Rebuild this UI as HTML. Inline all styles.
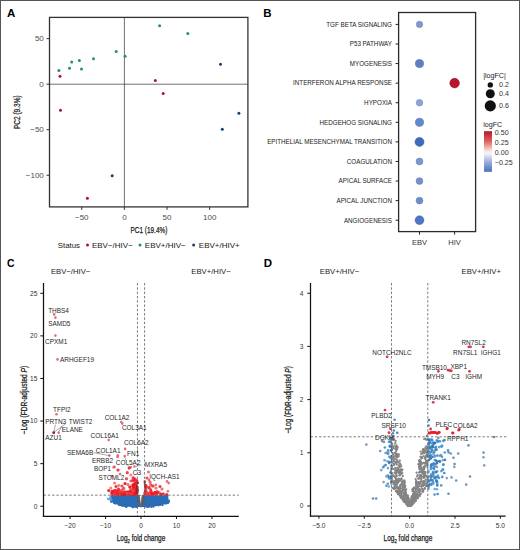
<!DOCTYPE html>
<html><head><meta charset="utf-8"><style>
html,body{margin:0;padding:0;background:#fff;}
svg{display:block;font-family:"Liberation Sans", sans-serif;}
</style></head><body>
<svg width="520" height="550" viewBox="0 0 520 550">
<rect width="520" height="550" fill="#fff"/>
<text x="6.90" y="17.11" font-size="11.5" fill="#000" font-weight="bold" >A</text>
<line x1="124.40" y1="17.40" x2="124.40" y2="206.90" stroke="#333" stroke-width="0.7" />
<line x1="49.50" y1="84.20" x2="247.90" y2="84.20" stroke="#333" stroke-width="0.7" />
<rect x="49.5" y="17.4" width="198.4" height="189.5" fill="none" stroke="#333" stroke-width="1.3"/>
<line x1="81.77" y1="206.90" x2="81.77" y2="209.90" stroke="#333" stroke-width="1" />
<text x="81.77" y="219.55" font-size="8.0" fill="#4d4d4d" text-anchor="middle" >−50</text>
<line x1="124.40" y1="206.90" x2="124.40" y2="209.90" stroke="#333" stroke-width="1" />
<text x="124.40" y="219.55" font-size="8.0" fill="#4d4d4d" text-anchor="middle" >0</text>
<line x1="167.03" y1="206.90" x2="167.03" y2="209.90" stroke="#333" stroke-width="1" />
<text x="167.03" y="219.55" font-size="8.0" fill="#4d4d4d" text-anchor="middle" >50</text>
<line x1="209.67" y1="206.90" x2="209.67" y2="209.90" stroke="#333" stroke-width="1" />
<text x="209.67" y="219.55" font-size="8.0" fill="#4d4d4d" text-anchor="middle" >100</text>
<line x1="46.50" y1="38.67" x2="49.50" y2="38.67" stroke="#333" stroke-width="1" />
<text x="43.80" y="41.42" font-size="8.0" fill="#4d4d4d" text-anchor="end" >50</text>
<line x1="46.50" y1="84.20" x2="49.50" y2="84.20" stroke="#333" stroke-width="1" />
<text x="43.80" y="86.95" font-size="8.0" fill="#4d4d4d" text-anchor="end" >0</text>
<line x1="46.50" y1="129.74" x2="49.50" y2="129.74" stroke="#333" stroke-width="1" />
<text x="43.80" y="132.49" font-size="8.0" fill="#4d4d4d" text-anchor="end" >−50</text>
<line x1="46.50" y1="175.27" x2="49.50" y2="175.27" stroke="#333" stroke-width="1" />
<text x="43.80" y="178.02" font-size="8.0" fill="#4d4d4d" text-anchor="end" >−100</text>
<text x="148.95" y="232.51" font-size="8.9" fill="#1a1a1a" text-anchor="middle" textLength="36.7" lengthAdjust="spacingAndGlyphs" stroke="#1a1a1a" stroke-width="0.25">PC1 (19.4%)</text>
<g transform="translate(20.3,112.2) rotate(-90)">
<text x="0.00" y="0.00" font-size="8.9" fill="#1a1a1a" text-anchor="middle" textLength="33.8" lengthAdjust="spacingAndGlyphs" stroke="#1a1a1a" stroke-width="0.25">PC2 (9.3%)</text>
</g>
<circle cx="58.90" cy="70.60" r="1.50" fill="#23955a" />
<circle cx="60.00" cy="76.20" r="1.50" fill="#b0103a" />
<circle cx="69.50" cy="68.20" r="1.50" fill="#23955a" />
<circle cx="71.70" cy="62.10" r="1.50" fill="#23955a" />
<circle cx="79.40" cy="60.50" r="1.50" fill="#23955a" />
<circle cx="81.50" cy="69.00" r="1.50" fill="#23955a" />
<circle cx="93.50" cy="58.70" r="1.50" fill="#23955a" />
<circle cx="116.20" cy="51.60" r="1.50" fill="#23955a" />
<circle cx="125.10" cy="56.20" r="1.50" fill="#23955a" />
<circle cx="159.60" cy="25.80" r="1.50" fill="#23955a" />
<circle cx="187.80" cy="33.50" r="1.50" fill="#23955a" />
<circle cx="155.30" cy="80.50" r="1.50" fill="#b0103a" />
<circle cx="163.20" cy="93.50" r="1.50" fill="#b0103a" />
<circle cx="220.50" cy="64.20" r="1.50" fill="#16416e" />
<circle cx="238.90" cy="113.20" r="1.50" fill="#16416e" />
<circle cx="222.30" cy="129.20" r="1.50" fill="#16416e" />
<circle cx="60.50" cy="110.30" r="1.50" fill="#b0103a" />
<circle cx="112.20" cy="175.80" r="1.50" fill="#16416e" />
<circle cx="87.40" cy="198.20" r="1.50" fill="#b0103a" />
<text x="57.70" y="247.62" font-size="7.9" fill="#1a1a1a" >Status</text>
<circle cx="87.50" cy="245.00" r="1.50" fill="#b0103a" />
<text x="91.90" y="247.65" font-size="8.0" fill="#1a1a1a" >EBV−/HIV−</text>
<circle cx="140.00" cy="245.00" r="1.50" fill="#23955a" />
<text x="144.80" y="247.65" font-size="8.0" fill="#1a1a1a" >EBV+/HIV−</text>
<circle cx="193.60" cy="245.00" r="1.50" fill="#16416e" />
<text x="198.80" y="247.65" font-size="8.0" fill="#1a1a1a" >EBV+/HIV+</text>
<text x="263.20" y="17.41" font-size="11.5" fill="#000" font-weight="bold" >B</text>
<rect x="398.6" y="12.5" width="77.0" height="219.1" fill="none" stroke="#2a2a2a" stroke-width="1.3"/>
<line x1="395.60" y1="24.40" x2="398.60" y2="24.40" stroke="#222" stroke-width="1" />
<text x="392.00" y="26.70" font-size="6.7" fill="#1a1a1a" text-anchor="end" textLength="65.73" lengthAdjust="spacingAndGlyphs" >TGF BETA SIGNALING</text>
<line x1="395.60" y1="43.98" x2="398.60" y2="43.98" stroke="#222" stroke-width="1" />
<text x="392.00" y="46.28" font-size="6.7" fill="#1a1a1a" text-anchor="end" textLength="42.27" lengthAdjust="spacingAndGlyphs" >P53 PATHWAY</text>
<line x1="395.60" y1="63.56" x2="398.60" y2="63.56" stroke="#222" stroke-width="1" />
<text x="392.00" y="65.86" font-size="6.7" fill="#1a1a1a" text-anchor="end" textLength="42.16" lengthAdjust="spacingAndGlyphs" >MYOGENESIS</text>
<line x1="395.60" y1="83.14" x2="398.60" y2="83.14" stroke="#222" stroke-width="1" />
<text x="392.00" y="85.44" font-size="6.7" fill="#1a1a1a" text-anchor="end" textLength="98.95" lengthAdjust="spacingAndGlyphs" >INTERFERON ALPHA RESPONSE</text>
<line x1="395.60" y1="102.72" x2="398.60" y2="102.72" stroke="#222" stroke-width="1" />
<text x="392.00" y="105.02" font-size="6.7" fill="#1a1a1a" text-anchor="end" textLength="27.88" lengthAdjust="spacingAndGlyphs" >HYPOXIA</text>
<line x1="395.60" y1="122.30" x2="398.60" y2="122.30" stroke="#222" stroke-width="1" />
<text x="392.00" y="124.60" font-size="6.7" fill="#1a1a1a" text-anchor="end" textLength="72.47" lengthAdjust="spacingAndGlyphs" >HEDGEHOG SIGNALING</text>
<line x1="395.60" y1="141.88" x2="398.60" y2="141.88" stroke="#222" stroke-width="1" />
<text x="392.00" y="144.18" font-size="6.7" fill="#1a1a1a" text-anchor="end" textLength="124.85" lengthAdjust="spacingAndGlyphs" >EPITHELIAL MESENCHYMAL TRANSITION</text>
<line x1="395.60" y1="161.46" x2="398.60" y2="161.46" stroke="#222" stroke-width="1" />
<text x="392.00" y="163.76" font-size="6.7" fill="#1a1a1a" text-anchor="end" textLength="45.17" lengthAdjust="spacingAndGlyphs" >COAGULATION</text>
<line x1="395.60" y1="181.04" x2="398.60" y2="181.04" stroke="#222" stroke-width="1" />
<text x="392.00" y="183.34" font-size="6.7" fill="#1a1a1a" text-anchor="end" textLength="53.43" lengthAdjust="spacingAndGlyphs" >APICAL SURFACE</text>
<line x1="395.60" y1="200.62" x2="398.60" y2="200.62" stroke="#222" stroke-width="1" />
<text x="392.00" y="202.92" font-size="6.7" fill="#1a1a1a" text-anchor="end" textLength="55.51" lengthAdjust="spacingAndGlyphs" >APICAL JUNCTION</text>
<line x1="395.60" y1="220.20" x2="398.60" y2="220.20" stroke="#222" stroke-width="1" />
<text x="392.00" y="222.50" font-size="6.7" fill="#1a1a1a" text-anchor="end" textLength="48.08" lengthAdjust="spacingAndGlyphs" >ANGIOGENESIS</text>
<line x1="419.50" y1="231.60" x2="419.50" y2="234.60" stroke="#222" stroke-width="1" />
<text x="419.50" y="244.58" font-size="7.5" fill="#333" text-anchor="middle" >EBV</text>
<line x1="454.60" y1="231.60" x2="454.60" y2="234.60" stroke="#222" stroke-width="1" />
<text x="454.60" y="244.58" font-size="7.5" fill="#333" text-anchor="middle" >HIV</text>
<circle cx="419.50" cy="24.40" r="3.20" fill="#8099cf" stroke="#6377a1" stroke-width="0.5"/>
<circle cx="419.50" cy="63.56" r="4.10" fill="#5e80c3" stroke="#496398" stroke-width="0.5"/>
<circle cx="419.50" cy="102.72" r="3.30" fill="#8aa5d9" stroke="#6b80a9" stroke-width="0.5"/>
<circle cx="419.50" cy="122.30" r="4.10" fill="#6088cc" stroke="#4a6a9f" stroke-width="0.5"/>
<circle cx="419.50" cy="141.88" r="4.50" fill="#3d6cbf" stroke="#2f5494" stroke-width="0.5"/>
<circle cx="419.50" cy="161.46" r="3.40" fill="#7c96cf" stroke="#6075a1" stroke-width="0.5"/>
<circle cx="419.50" cy="181.04" r="3.40" fill="#7592cd" stroke="#5b719f" stroke-width="0.5"/>
<circle cx="419.50" cy="200.62" r="3.40" fill="#6e8ecb" stroke="#556e9e" stroke-width="0.5"/>
<circle cx="419.50" cy="220.20" r="4.40" fill="#4d77c5" stroke="#3c5c99" stroke-width="0.5"/>
<circle cx="454.60" cy="83.14" r="4.80" fill="#b8142c" stroke="#8f0f22" stroke-width="0.5"/>
<text x="483.20" y="77.64" font-size="7.1" fill="#1a1a1a" >|logFC|</text>
<circle cx="490.30" cy="84.90" r="2.70" fill="#111" />
<text x="499.00" y="87.34" font-size="7.1" fill="#333" >0.2</text>
<circle cx="490.30" cy="93.80" r="4.50" fill="#111" />
<text x="499.00" y="96.24" font-size="7.1" fill="#333" >0.4</text>
<circle cx="490.30" cy="105.90" r="5.60" fill="#111" />
<text x="499.00" y="108.34" font-size="7.1" fill="#333" >0.6</text>
<text x="483.20" y="127.14" font-size="7.1" fill="#1a1a1a" >logFC</text>
<defs><linearGradient id="cb" x1="0" y1="0" x2="0" y2="1">
<stop offset="0" stop-color="#b2182b"/><stop offset="0.25" stop-color="#e0625f"/><stop offset="0.5" stop-color="#fbe9e4"/>
<stop offset="0.55" stop-color="#f3f3fb"/><stop offset="0.78" stop-color="#92a8d8"/><stop offset="1" stop-color="#4a70b8"/></linearGradient></defs>
<rect x="484" y="131.2" width="8" height="40.6" fill="url(#cb)"/>
<text x="494.80" y="134.94" font-size="7.1" fill="#333" >0.50</text>
<text x="494.80" y="145.24" font-size="7.1" fill="#333" >0.25</text>
<text x="494.80" y="155.24" font-size="7.1" fill="#333" >0.00</text>
<text x="494.80" y="165.44" font-size="7.1" fill="#333" >−0.25</text>
<text x="6.90" y="266.76" font-size="11.8" fill="#000" font-weight="bold" textLength="7.5" lengthAdjust="spacingAndGlyphs" >C</text>
<text x="70.60" y="274.10" font-size="7.7" fill="#222" text-anchor="middle" >EBV−/HIV−</text>
<text x="211.00" y="274.10" font-size="7.7" fill="#222" text-anchor="middle" >EBV+/HIV−</text>
<path d="M110.5,495.2 L168.3,495.2 L168.5,502.29 L168.0,502.54 L167.5,502.79 L167.0,503.02 L166.5,503.24 L166.0,503.46 L165.5,503.66 L165.0,503.86 L164.5,504.04 L164.0,504.22 L163.5,504.39 L163.0,504.56 L162.5,504.71 L162.0,504.86 L161.5,505.00 L161.0,505.13 L160.5,505.26 L160.0,505.38 L159.5,505.50 L159.0,505.60 L158.5,505.71 L158.0,505.81 L157.5,505.90 L157.0,505.99 L156.5,506.07 L156.0,506.15 L155.5,506.22 L155.0,506.29 L154.5,506.36 L154.0,506.42 L153.5,506.48 L153.0,506.53 L152.5,506.59 L152.0,506.63 L151.5,506.68 L151.0,506.72 L150.5,506.76 L150.0,506.80 L149.5,506.83 L149.0,506.86 L148.5,506.89 L148.0,506.92 L147.5,506.94 L147.0,506.97 L146.5,506.99 L146.0,507.01 L145.5,507.02 L145.0,507.04 L144.5,507.05 L144.0,507.06 L143.5,507.07 L143.0,507.08 L142.5,507.09 L142.0,507.09 L141.5,507.10 L141.0,507.10 L140.5,507.10 L140.0,507.10 L139.5,507.10 L139.0,507.09 L138.5,507.09 L138.0,507.08 L137.5,507.07 L137.0,507.06 L136.5,507.05 L136.0,507.04 L135.5,507.02 L135.0,507.01 L134.5,506.99 L134.0,506.97 L133.5,506.94 L133.0,506.92 L132.5,506.89 L132.0,506.86 L131.5,506.83 L131.0,506.80 L130.5,506.76 L130.0,506.72 L129.5,506.68 L129.0,506.63 L128.5,506.59 L128.0,506.53 L127.5,506.48 L127.0,506.42 L126.5,506.36 L126.0,506.29 L125.5,506.22 L125.0,506.15 L124.5,506.07 L124.0,505.99 L123.5,505.90 L123.0,505.81 L122.5,505.71 L122.0,505.60 L121.5,505.50 L121.0,505.38 L120.5,505.26 L120.0,505.13 L119.5,505.00 L119.0,504.86 L118.5,504.71 L118.0,504.56 L117.5,504.39 L117.0,504.22 L116.5,504.04 L116.0,503.86 L115.5,503.66 L115.0,503.46 L114.5,503.24 L114.0,503.02 L113.5,502.79 L113.0,502.54 L112.5,502.29 L112.0,502.02 L111.5,501.75 L111.0,501.46 L110.5,501.16 Z" fill="#2a6db6"/>
<g fill="#2a6db6">
<circle cx="136.7" cy="506.6" r="1.1"/>
<circle cx="164.5" cy="503.4" r="1.1"/>
<circle cx="120.9" cy="504.8" r="1.1"/>
<circle cx="147.2" cy="507.0" r="1.1"/>
<circle cx="115.6" cy="502.8" r="1.1"/>
<circle cx="115.3" cy="503.6" r="1.1"/>
<circle cx="150.9" cy="505.3" r="1.1"/>
<circle cx="167.9" cy="502.9" r="1.1"/>
<circle cx="148.6" cy="506.6" r="1.1"/>
<circle cx="119.3" cy="503.5" r="1.1"/>
<circle cx="113.5" cy="501.7" r="1.1"/>
<circle cx="124.3" cy="504.6" r="1.1"/>
<circle cx="136.0" cy="507.1" r="1.1"/>
<circle cx="147.8" cy="506.4" r="1.1"/>
<circle cx="149.1" cy="506.2" r="1.1"/>
<circle cx="126.4" cy="506.7" r="1.1"/>
<circle cx="168.7" cy="502.3" r="1.1"/>
<circle cx="151.8" cy="505.8" r="1.1"/>
<circle cx="123.6" cy="505.0" r="1.1"/>
<circle cx="114.1" cy="503.0" r="1.1"/>
<circle cx="133.6" cy="507.1" r="1.1"/>
<circle cx="132.8" cy="507.2" r="1.1"/>
<circle cx="160.0" cy="503.9" r="1.1"/>
<circle cx="122.4" cy="505.9" r="1.1"/>
<circle cx="167.8" cy="501.9" r="1.1"/>
<circle cx="114.3" cy="502.9" r="1.1"/>
<circle cx="155.9" cy="505.2" r="1.1"/>
<circle cx="115.1" cy="502.6" r="1.1"/>
<circle cx="166.9" cy="503.0" r="1.1"/>
<circle cx="117.0" cy="503.2" r="1.1"/>
<circle cx="116.0" cy="502.5" r="1.1"/>
<circle cx="157.0" cy="504.8" r="1.1"/>
<circle cx="136.4" cy="505.9" r="1.1"/>
<circle cx="153.2" cy="505.3" r="1.1"/>
<circle cx="148.0" cy="505.6" r="1.1"/>
<circle cx="134.8" cy="505.9" r="1.1"/>
<circle cx="125.9" cy="506.6" r="1.1"/>
<circle cx="157.4" cy="505.0" r="1.1"/>
<circle cx="162.2" cy="503.7" r="1.1"/>
<circle cx="133.3" cy="507.1" r="1.1"/>
<circle cx="147.9" cy="505.6" r="1.1"/>
<circle cx="168.4" cy="501.3" r="1.1"/>
<circle cx="125.2" cy="506.2" r="1.1"/>
<circle cx="129.4" cy="505.7" r="1.1"/>
<circle cx="114.3" cy="501.8" r="1.1"/>
<circle cx="124.3" cy="505.7" r="1.1"/>
<circle cx="131.9" cy="506.2" r="1.1"/>
<circle cx="166.6" cy="502.6" r="1.1"/>
<circle cx="161.1" cy="503.9" r="1.1"/>
<circle cx="119.1" cy="505.1" r="1.1"/>
<circle cx="158.3" cy="504.7" r="1.1"/>
<circle cx="121.2" cy="505.3" r="1.1"/>
<circle cx="165.5" cy="502.5" r="1.1"/>
<circle cx="166.1" cy="503.6" r="1.1"/>
<circle cx="145.6" cy="506.3" r="1.1"/>
<circle cx="116.1" cy="502.5" r="1.1"/>
<circle cx="166.8" cy="502.1" r="1.1"/>
<circle cx="151.6" cy="505.7" r="1.1"/>
<circle cx="158.6" cy="505.3" r="1.1"/>
<circle cx="127.3" cy="505.3" r="1.1"/>
<circle cx="152.5" cy="505.2" r="1.1"/>
<circle cx="123.5" cy="505.5" r="1.1"/>
<circle cx="160.3" cy="505.0" r="1.1"/>
<circle cx="126.5" cy="506.6" r="1.1"/>
<circle cx="122.0" cy="504.1" r="1.1"/>
<circle cx="125.9" cy="505.6" r="1.1"/>
<circle cx="113.6" cy="501.7" r="1.1"/>
<circle cx="131.8" cy="506.4" r="1.1"/>
<circle cx="117.8" cy="503.7" r="1.1"/>
<circle cx="162.6" cy="505.1" r="1.1"/>
<circle cx="148.8" cy="506.7" r="1.1"/>
<circle cx="118.3" cy="503.2" r="1.1"/>
<circle cx="111.1" cy="501.7" r="1.1"/>
<circle cx="151.4" cy="507.0" r="1.1"/>
<circle cx="111.3" cy="501.3" r="1.1"/>
<circle cx="153.1" cy="505.6" r="1.1"/>
<circle cx="169.0" cy="500.7" r="1.1"/>
<circle cx="153.5" cy="506.7" r="1.1"/>
</g>
<g fill="#5d9ad6" opacity="0.85">
<circle cx="110.4" cy="499.1" r="1.1"/>
<circle cx="110.7" cy="500.1" r="1.1"/>
<circle cx="108.9" cy="499.0" r="1.1"/>
<circle cx="111.1" cy="499.9" r="1.1"/>
<circle cx="109.2" cy="499.5" r="1.1"/>
<circle cx="111.0" cy="498.5" r="1.1"/>
<circle cx="110.0" cy="497.6" r="1.1"/>
<circle cx="109.8" cy="498.7" r="1.1"/>
<circle cx="107.8" cy="498.8" r="1.1"/>
<circle cx="111.5" cy="499.9" r="1.1"/>
<circle cx="110.4" cy="497.6" r="1.1"/>
<circle cx="110.4" cy="498.5" r="1.1"/>
</g>
<path d="M137.3,495.2 L143.8,495.2 L143.6,503 L141.2,507.6 L138.6,504 Z" fill="#58595c"/>
<path d="M139.5,495.2 L141.9,495.2 L140.8,505.2 Z" fill="#fff"/>
<g fill="#6a6a6a" opacity="0.7">
<circle cx="141.9" cy="500.8" r="0.7"/>
<circle cx="138.5" cy="499.1" r="0.7"/>
<circle cx="139.3" cy="498.1" r="0.7"/>
<circle cx="141.4" cy="504.5" r="0.7"/>
<circle cx="141.6" cy="498.4" r="0.7"/>
<circle cx="142.8" cy="497.1" r="0.7"/>
<circle cx="139.9" cy="504.2" r="0.7"/>
<circle cx="141.4" cy="501.2" r="0.7"/>
<circle cx="141.0" cy="503.2" r="0.7"/>
<circle cx="141.5" cy="504.7" r="0.7"/>
<circle cx="140.3" cy="505.6" r="0.7"/>
<circle cx="141.9" cy="497.9" r="0.7"/>
<circle cx="141.6" cy="505.1" r="0.7"/>
<circle cx="140.2" cy="506.4" r="0.7"/>
<circle cx="138.7" cy="496.8" r="0.7"/>
<circle cx="140.1" cy="505.1" r="0.7"/>
<circle cx="141.8" cy="503.2" r="0.7"/>
<circle cx="142.7" cy="499.2" r="0.7"/>
<circle cx="140.2" cy="505.5" r="0.7"/>
<circle cx="141.3" cy="502.1" r="0.7"/>
<circle cx="139.8" cy="502.9" r="0.7"/>
<circle cx="139.1" cy="495.8" r="0.7"/>
<circle cx="140.7" cy="504.5" r="0.7"/>
<circle cx="139.7" cy="500.6" r="0.7"/>
<circle cx="141.1" cy="506.5" r="0.7"/>
<circle cx="139.9" cy="505.0" r="0.7"/>
<circle cx="140.2" cy="504.2" r="0.7"/>
<circle cx="138.5" cy="497.6" r="0.7"/>
<circle cx="142.4" cy="501.7" r="0.7"/>
<circle cx="139.8" cy="500.0" r="0.7"/>
<circle cx="139.4" cy="496.5" r="0.7"/>
<circle cx="142.5" cy="497.0" r="0.7"/>
<circle cx="139.4" cy="499.8" r="0.7"/>
<circle cx="142.1" cy="500.8" r="0.7"/>
<circle cx="139.3" cy="496.6" r="0.7"/>
<circle cx="139.6" cy="498.0" r="0.7"/>
<circle cx="140.7" cy="506.7" r="0.7"/>
<circle cx="142.7" cy="498.5" r="0.7"/>
<circle cx="138.6" cy="499.5" r="0.7"/>
<circle cx="142.0" cy="499.4" r="0.7"/>
</g>
<g>
<circle cx="135.0" cy="494.2" r="1.6" fill="#ec1c24" opacity="0.9"/>
<circle cx="115.9" cy="493.9" r="1.6" fill="#e8141c" opacity="0.9"/>
<circle cx="124.7" cy="492.4" r="1.6" fill="#ee3a48" opacity="0.9"/>
<circle cx="166.7" cy="494.5" r="1.6" fill="#e8141c" opacity="0.9"/>
<circle cx="118.9" cy="492.4" r="1.6" fill="#ee3a48" opacity="0.85"/>
<circle cx="133.0" cy="493.2" r="1.6" fill="#f0262c" opacity="0.9"/>
<circle cx="145.8" cy="491.9" r="1.6" fill="#f2474d" opacity="0.85"/>
<circle cx="115.1" cy="493.3" r="1.6" fill="#f0262c" opacity="0.6"/>
<circle cx="122.0" cy="494.4" r="1.6" fill="#ec1c24" opacity="0.6"/>
<circle cx="125.2" cy="494.5" r="1.6" fill="#de1a22" opacity="0.6"/>
<circle cx="154.5" cy="493.1" r="1.6" fill="#ec1c24" opacity="0.6"/>
<circle cx="135.0" cy="491.9" r="1.6" fill="#de1a22" opacity="0.95"/>
<circle cx="124.1" cy="493.9" r="1.6" fill="#de1a22" opacity="0.6"/>
<circle cx="116.4" cy="493.0" r="1.6" fill="#f0262c" opacity="0.85"/>
<circle cx="136.4" cy="494.5" r="1.6" fill="#e8141c" opacity="0.85"/>
<circle cx="118.7" cy="492.4" r="1.6" fill="#e8141c" opacity="0.6"/>
<circle cx="124.2" cy="493.1" r="1.6" fill="#f2474d" opacity="0.6"/>
<circle cx="116.5" cy="493.3" r="1.6" fill="#de1a22" opacity="0.75"/>
<circle cx="122.0" cy="493.3" r="1.6" fill="#e8141c" opacity="0.6"/>
<circle cx="127.6" cy="492.9" r="1.6" fill="#f2474d" opacity="0.85"/>
<circle cx="148.8" cy="493.4" r="1.6" fill="#e8141c" opacity="0.85"/>
<circle cx="150.6" cy="494.3" r="1.6" fill="#f2474d" opacity="0.95"/>
<circle cx="150.8" cy="494.3" r="1.6" fill="#e8141c" opacity="0.75"/>
<circle cx="117.6" cy="492.4" r="1.6" fill="#f0262c" opacity="0.9"/>
<circle cx="132.7" cy="493.7" r="1.6" fill="#ee3a48" opacity="0.85"/>
<circle cx="127.5" cy="491.9" r="1.6" fill="#ec1c24" opacity="0.85"/>
<circle cx="120.6" cy="491.7" r="1.6" fill="#f0262c" opacity="0.75"/>
<circle cx="127.7" cy="493.9" r="1.6" fill="#ee3a48" opacity="0.85"/>
<circle cx="146.8" cy="492.7" r="1.6" fill="#f2474d" opacity="0.6"/>
<circle cx="145.0" cy="493.7" r="1.6" fill="#e8141c" opacity="0.85"/>
<circle cx="115.9" cy="494.3" r="1.6" fill="#f0262c" opacity="0.75"/>
<circle cx="114.9" cy="492.7" r="1.6" fill="#ec1c24" opacity="0.75"/>
<circle cx="123.4" cy="493.4" r="1.6" fill="#de1a22" opacity="0.85"/>
<circle cx="111.8" cy="492.5" r="1.6" fill="#e8141c" opacity="0.85"/>
<circle cx="120.7" cy="493.8" r="1.6" fill="#e8141c" opacity="0.6"/>
<circle cx="124.6" cy="494.6" r="1.6" fill="#ec1c24" opacity="0.9"/>
<circle cx="116.4" cy="493.1" r="1.6" fill="#f0262c" opacity="0.95"/>
<circle cx="114.5" cy="492.3" r="1.6" fill="#e8141c" opacity="0.9"/>
<circle cx="119.9" cy="493.3" r="1.6" fill="#f0262c" opacity="0.9"/>
<circle cx="121.8" cy="492.4" r="1.6" fill="#ec1c24" opacity="0.95"/>
<circle cx="114.1" cy="490.9" r="1.6" fill="#ee3a48" opacity="0.6"/>
<circle cx="118.5" cy="489.1" r="1.6" fill="#f0262c" opacity="0.95"/>
<circle cx="121.9" cy="494.3" r="1.6" fill="#ec1c24" opacity="0.9"/>
<circle cx="124.2" cy="494.2" r="1.6" fill="#ec1c24" opacity="0.9"/>
<circle cx="157.1" cy="492.9" r="1.6" fill="#f0262c" opacity="0.9"/>
<circle cx="112.8" cy="494.2" r="1.6" fill="#de1a22" opacity="0.75"/>
<circle cx="117.9" cy="490.6" r="1.6" fill="#f2474d" opacity="0.6"/>
<circle cx="136.2" cy="493.2" r="1.6" fill="#ec1c24" opacity="0.9"/>
<circle cx="146.6" cy="494.5" r="1.6" fill="#f2474d" opacity="0.75"/>
<circle cx="135.4" cy="493.8" r="1.6" fill="#e8141c" opacity="0.9"/>
<circle cx="126.7" cy="493.6" r="1.6" fill="#de1a22" opacity="0.9"/>
<circle cx="121.7" cy="494.0" r="1.6" fill="#f2474d" opacity="0.95"/>
<circle cx="118.4" cy="490.1" r="1.6" fill="#ee3a48" opacity="0.95"/>
<circle cx="131.2" cy="493.1" r="1.6" fill="#ee3a48" opacity="0.85"/>
<circle cx="129.0" cy="494.5" r="1.6" fill="#f0262c" opacity="0.9"/>
<circle cx="136.7" cy="489.7" r="1.6" fill="#ec1c24" opacity="0.85"/>
<circle cx="123.7" cy="488.4" r="1.6" fill="#e8141c" opacity="0.75"/>
<circle cx="135.4" cy="492.4" r="1.6" fill="#de1a22" opacity="0.85"/>
<circle cx="149.8" cy="494.4" r="1.6" fill="#f2474d" opacity="0.9"/>
<circle cx="116.7" cy="494.5" r="1.6" fill="#f2474d" opacity="0.85"/>
<circle cx="122.8" cy="492.7" r="1.6" fill="#de1a22" opacity="0.6"/>
<circle cx="126.3" cy="493.7" r="1.6" fill="#ee3a48" opacity="0.6"/>
<circle cx="156.0" cy="494.4" r="1.6" fill="#f0262c" opacity="0.85"/>
<circle cx="114.4" cy="490.8" r="1.6" fill="#f2474d" opacity="0.6"/>
<circle cx="146.7" cy="492.9" r="1.6" fill="#ee3a48" opacity="0.6"/>
<circle cx="118.6" cy="494.1" r="1.6" fill="#e8141c" opacity="0.6"/>
<circle cx="157.0" cy="491.4" r="1.6" fill="#ee3a48" opacity="0.75"/>
<circle cx="111.7" cy="494.1" r="1.6" fill="#ec1c24" opacity="0.6"/>
<circle cx="117.2" cy="494.0" r="1.6" fill="#ec1c24" opacity="0.85"/>
<circle cx="127.6" cy="493.8" r="1.6" fill="#de1a22" opacity="0.95"/>
<circle cx="120.3" cy="492.3" r="1.6" fill="#ec1c24" opacity="0.75"/>
<circle cx="132.5" cy="491.5" r="1.6" fill="#e8141c" opacity="0.9"/>
<circle cx="118.1" cy="491.8" r="1.6" fill="#f0262c" opacity="0.85"/>
<circle cx="136.7" cy="493.9" r="1.6" fill="#f2474d" opacity="0.85"/>
<circle cx="120.9" cy="494.4" r="1.6" fill="#f0262c" opacity="0.75"/>
<circle cx="122.5" cy="493.2" r="1.6" fill="#ee3a48" opacity="0.9"/>
<circle cx="131.3" cy="494.5" r="1.6" fill="#e8141c" opacity="0.6"/>
<circle cx="119.2" cy="492.4" r="1.6" fill="#ee3a48" opacity="0.95"/>
<circle cx="115.1" cy="493.8" r="1.6" fill="#ee3a48" opacity="0.95"/>
<circle cx="114.5" cy="492.5" r="1.6" fill="#f2474d" opacity="0.6"/>
<circle cx="163.3" cy="493.9" r="1.6" fill="#f0262c" opacity="0.9"/>
<circle cx="121.7" cy="490.0" r="1.6" fill="#f2474d" opacity="0.85"/>
<circle cx="132.6" cy="494.6" r="1.6" fill="#ee3a48" opacity="0.9"/>
<circle cx="131.8" cy="492.3" r="1.6" fill="#f0262c" opacity="0.9"/>
<circle cx="132.8" cy="493.2" r="1.6" fill="#e8141c" opacity="0.75"/>
<circle cx="134.0" cy="494.0" r="1.6" fill="#ec1c24" opacity="0.85"/>
<circle cx="125.4" cy="493.2" r="1.6" fill="#ec1c24" opacity="0.9"/>
<circle cx="125.4" cy="492.0" r="1.6" fill="#ec1c24" opacity="0.95"/>
<circle cx="130.3" cy="490.7" r="1.6" fill="#ec1c24" opacity="0.75"/>
<circle cx="115.2" cy="492.3" r="1.6" fill="#ee3a48" opacity="0.9"/>
<circle cx="117.1" cy="492.1" r="1.6" fill="#f2474d" opacity="0.95"/>
<circle cx="121.6" cy="493.9" r="1.6" fill="#f0262c" opacity="0.85"/>
<circle cx="125.2" cy="492.4" r="1.6" fill="#ee3a48" opacity="0.6"/>
<circle cx="152.1" cy="493.9" r="1.6" fill="#ee3a48" opacity="0.95"/>
<circle cx="150.7" cy="491.7" r="1.6" fill="#f2474d" opacity="0.75"/>
<circle cx="129.6" cy="491.8" r="1.6" fill="#de1a22" opacity="0.9"/>
<circle cx="160.8" cy="494.2" r="1.6" fill="#e8141c" opacity="0.9"/>
<circle cx="119.7" cy="493.8" r="1.6" fill="#f2474d" opacity="0.95"/>
<circle cx="134.1" cy="493.5" r="1.6" fill="#ee3a48" opacity="0.75"/>
<circle cx="115.5" cy="490.3" r="1.6" fill="#ec1c24" opacity="0.9"/>
<circle cx="123.8" cy="491.9" r="1.6" fill="#f0262c" opacity="0.75"/>
<circle cx="120.7" cy="493.1" r="1.6" fill="#f2474d" opacity="0.9"/>
<circle cx="117.2" cy="494.3" r="1.6" fill="#f0262c" opacity="0.9"/>
<circle cx="130.8" cy="494.0" r="1.6" fill="#f2474d" opacity="0.6"/>
<circle cx="118.1" cy="490.9" r="1.6" fill="#f0262c" opacity="0.6"/>
<circle cx="113.9" cy="491.2" r="1.6" fill="#de1a22" opacity="0.75"/>
<circle cx="114.9" cy="491.9" r="1.6" fill="#f2474d" opacity="0.6"/>
<circle cx="131.6" cy="494.5" r="1.6" fill="#e8141c" opacity="0.75"/>
<circle cx="152.9" cy="494.2" r="1.6" fill="#de1a22" opacity="0.6"/>
<circle cx="150.3" cy="493.9" r="1.6" fill="#f0262c" opacity="0.85"/>
<circle cx="133.7" cy="493.4" r="1.6" fill="#ee3a48" opacity="0.6"/>
<circle cx="125.1" cy="494.3" r="1.6" fill="#e8141c" opacity="0.75"/>
<circle cx="134.9" cy="494.3" r="1.6" fill="#e8141c" opacity="0.75"/>
<circle cx="127.2" cy="493.3" r="1.6" fill="#de1a22" opacity="0.9"/>
<circle cx="130.6" cy="493.3" r="1.6" fill="#f2474d" opacity="0.95"/>
<circle cx="116.3" cy="494.2" r="1.6" fill="#ee3a48" opacity="0.75"/>
<circle cx="122.7" cy="494.5" r="1.6" fill="#de1a22" opacity="0.6"/>
<circle cx="135.6" cy="489.0" r="1.6" fill="#f0262c" opacity="0.95"/>
<circle cx="125.7" cy="492.7" r="1.6" fill="#ec1c24" opacity="0.95"/>
<circle cx="115.1" cy="492.7" r="1.6" fill="#ee3a48" opacity="0.9"/>
<circle cx="131.5" cy="494.4" r="1.6" fill="#de1a22" opacity="0.75"/>
<circle cx="147.2" cy="494.1" r="1.6" fill="#ec1c24" opacity="0.9"/>
<circle cx="133.3" cy="491.4" r="1.6" fill="#ee3a48" opacity="0.85"/>
<circle cx="154.7" cy="494.4" r="1.6" fill="#ee3a48" opacity="0.9"/>
<circle cx="144.8" cy="492.8" r="1.6" fill="#f2474d" opacity="0.75"/>
<circle cx="116.6" cy="492.4" r="1.6" fill="#f0262c" opacity="0.95"/>
<circle cx="157.3" cy="492.9" r="1.6" fill="#f0262c" opacity="0.9"/>
<circle cx="148.9" cy="494.5" r="1.6" fill="#ee3a48" opacity="0.85"/>
<circle cx="121.8" cy="491.5" r="1.6" fill="#f2474d" opacity="0.75"/>
<circle cx="112.3" cy="491.4" r="1.6" fill="#ec1c24" opacity="0.95"/>
<circle cx="147.5" cy="493.9" r="1.6" fill="#f2474d" opacity="0.85"/>
<circle cx="131.1" cy="491.7" r="1.6" fill="#de1a22" opacity="0.9"/>
<circle cx="122.0" cy="494.6" r="1.6" fill="#de1a22" opacity="0.6"/>
<circle cx="136.5" cy="491.9" r="1.6" fill="#ee3a48" opacity="0.6"/>
<circle cx="118.1" cy="494.2" r="1.6" fill="#f0262c" opacity="0.9"/>
<circle cx="121.1" cy="493.4" r="1.6" fill="#f0262c" opacity="0.75"/>
<circle cx="115.5" cy="492.1" r="1.6" fill="#f0262c" opacity="0.6"/>
<circle cx="127.1" cy="493.4" r="1.6" fill="#f2474d" opacity="0.85"/>
<circle cx="159.0" cy="492.3" r="1.6" fill="#e8141c" opacity="0.6"/>
<circle cx="146.2" cy="493.3" r="1.6" fill="#e8141c" opacity="0.75"/>
<circle cx="134.4" cy="487.1" r="1.6" fill="#de1a22" opacity="0.95"/>
<circle cx="133.2" cy="477.8" r="1.6" fill="#f0262c" opacity="0.95"/>
<circle cx="135.2" cy="493.1" r="1.6" fill="#ee3a48" opacity="0.85"/>
<circle cx="136.7" cy="483.6" r="1.6" fill="#f2474d" opacity="0.6"/>
<circle cx="129.8" cy="487.1" r="1.6" fill="#e8141c" opacity="0.95"/>
<circle cx="135.6" cy="491.6" r="1.6" fill="#ec1c24" opacity="0.95"/>
<circle cx="135.7" cy="487.0" r="1.6" fill="#f2474d" opacity="0.95"/>
<circle cx="135.9" cy="489.5" r="1.6" fill="#f2474d" opacity="0.75"/>
<circle cx="133.6" cy="491.7" r="1.6" fill="#ee3a48" opacity="0.85"/>
<circle cx="135.2" cy="482.8" r="1.6" fill="#ee3a48" opacity="0.9"/>
<circle cx="133.3" cy="486.4" r="1.6" fill="#ec1c24" opacity="0.85"/>
<circle cx="135.8" cy="485.5" r="1.6" fill="#e8141c" opacity="0.6"/>
<circle cx="133.6" cy="487.2" r="1.6" fill="#e8141c" opacity="0.95"/>
<circle cx="134.3" cy="493.2" r="1.6" fill="#f2474d" opacity="0.95"/>
<circle cx="131.2" cy="489.4" r="1.6" fill="#ee3a48" opacity="0.85"/>
<circle cx="133.6" cy="488.6" r="1.6" fill="#ec1c24" opacity="0.9"/>
<circle cx="132.8" cy="479.9" r="1.6" fill="#ee3a48" opacity="0.6"/>
<circle cx="136.7" cy="480.7" r="1.6" fill="#de1a22" opacity="0.9"/>
<circle cx="133.4" cy="480.6" r="1.6" fill="#de1a22" opacity="0.9"/>
<circle cx="135.7" cy="491.3" r="1.6" fill="#f2474d" opacity="0.95"/>
<circle cx="133.3" cy="492.7" r="1.6" fill="#ec1c24" opacity="0.95"/>
<circle cx="134.6" cy="490.3" r="1.6" fill="#f2474d" opacity="0.9"/>
<circle cx="136.5" cy="483.3" r="1.6" fill="#f0262c" opacity="0.6"/>
<circle cx="135.1" cy="489.8" r="1.6" fill="#de1a22" opacity="0.85"/>
<circle cx="133.5" cy="493.9" r="1.6" fill="#ec1c24" opacity="0.9"/>
<circle cx="135.5" cy="484.8" r="1.6" fill="#e8141c" opacity="0.6"/>
<circle cx="135.8" cy="486.5" r="1.6" fill="#e8141c" opacity="0.75"/>
<circle cx="131.3" cy="493.9" r="1.6" fill="#ee3a48" opacity="0.95"/>
<circle cx="134.6" cy="487.8" r="1.6" fill="#e8141c" opacity="0.85"/>
<circle cx="134.8" cy="487.2" r="1.6" fill="#ec1c24" opacity="0.75"/>
<circle cx="131.9" cy="485.8" r="1.6" fill="#ec1c24" opacity="0.6"/>
<circle cx="133.6" cy="490.0" r="1.6" fill="#f0262c" opacity="0.85"/>
<circle cx="136.9" cy="492.3" r="1.6" fill="#e8141c" opacity="0.75"/>
<circle cx="133.4" cy="490.8" r="1.6" fill="#f2474d" opacity="0.9"/>
<circle cx="133.6" cy="484.5" r="1.6" fill="#e8141c" opacity="0.75"/>
<circle cx="135.7" cy="485.7" r="1.6" fill="#f0262c" opacity="0.95"/>
<circle cx="136.1" cy="490.0" r="1.6" fill="#de1a22" opacity="0.85"/>
<circle cx="135.0" cy="478.9" r="1.6" fill="#ee3a48" opacity="0.75"/>
<circle cx="134.8" cy="479.6" r="1.6" fill="#f0262c" opacity="0.9"/>
<circle cx="132.1" cy="492.9" r="1.6" fill="#ee3a48" opacity="0.6"/>
<circle cx="135.5" cy="483.2" r="1.6" fill="#e8141c" opacity="0.75"/>
<circle cx="135.2" cy="488.5" r="1.6" fill="#f0262c" opacity="0.95"/>
<circle cx="133.2" cy="484.8" r="1.6" fill="#e8141c" opacity="0.95"/>
<circle cx="135.7" cy="492.9" r="1.6" fill="#e8141c" opacity="0.95"/>
<circle cx="149.1" cy="487.7" r="1.6" fill="#f0262c" opacity="0.85"/>
<circle cx="146.0" cy="487.0" r="1.6" fill="#f0262c" opacity="0.95"/>
<circle cx="148.8" cy="487.7" r="1.6" fill="#ec1c24" opacity="0.6"/>
<circle cx="154.8" cy="492.4" r="1.6" fill="#e8141c" opacity="0.85"/>
<circle cx="146.0" cy="485.5" r="1.6" fill="#ec1c24" opacity="0.9"/>
<circle cx="148.9" cy="493.3" r="1.6" fill="#f2474d" opacity="0.75"/>
<circle cx="146.2" cy="493.6" r="1.6" fill="#f2474d" opacity="0.6"/>
<circle cx="145.8" cy="489.5" r="1.6" fill="#f2474d" opacity="0.75"/>
<circle cx="146.0" cy="490.5" r="1.6" fill="#ee3a48" opacity="0.6"/>
<circle cx="151.3" cy="492.1" r="1.6" fill="#e8141c" opacity="0.75"/>
<circle cx="150.8" cy="484.7" r="1.6" fill="#f2474d" opacity="0.9"/>
<circle cx="152.6" cy="493.8" r="1.6" fill="#ec1c24" opacity="0.85"/>
<circle cx="150.8" cy="489.9" r="1.6" fill="#f0262c" opacity="0.95"/>
<g fill="#8a1a28" opacity="0.85">
<circle cx="137.7" cy="491.0" r="1.0"/>
<circle cx="137.4" cy="487.1" r="1.0"/>
<circle cx="138.0" cy="489.6" r="1.0"/>
<circle cx="137.4" cy="493.3" r="1.0"/>
<circle cx="136.9" cy="490.9" r="1.0"/>
<circle cx="136.9" cy="488.5" r="1.0"/>
<circle cx="137.0" cy="486.2" r="1.0"/>
<circle cx="137.8" cy="491.0" r="1.0"/>
<circle cx="137.9" cy="483.3" r="1.0"/>
<circle cx="137.4" cy="483.1" r="1.0"/>
<circle cx="137.5" cy="487.0" r="1.0"/>
<circle cx="136.7" cy="488.4" r="1.0"/>
<circle cx="137.7" cy="488.0" r="1.0"/>
<circle cx="138.0" cy="482.5" r="1.0"/>
<circle cx="144.6" cy="481.2" r="1.0"/>
<circle cx="144.9" cy="486.7" r="1.0"/>
<circle cx="144.8" cy="484.4" r="1.0"/>
<circle cx="145.2" cy="481.9" r="1.0"/>
<circle cx="145.3" cy="488.4" r="1.0"/>
<circle cx="144.9" cy="491.3" r="1.0"/>
<circle cx="144.6" cy="482.9" r="1.0"/>
<circle cx="144.7" cy="481.6" r="1.0"/>
</g>
<circle cx="114.6" cy="483.0" r="1.6" fill="#f0262c" opacity="0.6"/>
<circle cx="118.8" cy="485.4" r="1.6" fill="#ee3a48" opacity="0.6"/>
<circle cx="110.8" cy="488.0" r="1.6" fill="#f0262c" opacity="0.6"/>
<circle cx="126.5" cy="478.8" r="1.6" fill="#de1a22" opacity="0.75"/>
<circle cx="113.8" cy="467.2" r="1.6" fill="#ee3a48" opacity="0.6"/>
<circle cx="118.0" cy="470.0" r="1.6" fill="#e8141c" opacity="0.9"/>
<circle cx="127.3" cy="472.7" r="1.6" fill="#f0262c" opacity="0.85"/>
<circle cx="129.2" cy="468.0" r="1.6" fill="#e8141c" opacity="0.9"/>
<circle cx="130.8" cy="475.0" r="1.6" fill="#ee3a48" opacity="0.6"/>
<circle cx="122.0" cy="486.0" r="1.6" fill="#de1a22" opacity="0.75"/>
<circle cx="116.0" cy="486.5" r="1.6" fill="#f0262c" opacity="0.9"/>
<circle cx="125.0" cy="483.5" r="1.6" fill="#de1a22" opacity="0.95"/>
<circle cx="131.0" cy="481.0" r="1.6" fill="#ee3a48" opacity="0.85"/>
<circle cx="128.0" cy="484.5" r="1.6" fill="#ee3a48" opacity="0.75"/>
<circle cx="108.8" cy="490.5" r="1.6" fill="#e8141c" opacity="0.9"/>
<circle cx="150.0" cy="482.0" r="1.6" fill="#f2474d" opacity="0.85"/>
<circle cx="153.0" cy="486.0" r="1.6" fill="#e8141c" opacity="0.9"/>
<circle cx="156.0" cy="488.0" r="1.6" fill="#f2474d" opacity="0.75"/>
<circle cx="160.0" cy="486.5" r="1.6" fill="#ec1c24" opacity="0.85"/>
<circle cx="162.0" cy="489.0" r="1.6" fill="#de1a22" opacity="0.6"/>
<circle cx="147.0" cy="478.0" r="1.6" fill="#e8141c" opacity="0.75"/>
<circle cx="148.5" cy="472.0" r="1.6" fill="#de1a22" opacity="0.6"/>
</g>
<circle cx="54.20" cy="314.40" r="1.30" fill="#e0506a" opacity="0.85"/>
<circle cx="55.40" cy="317.60" r="1.30" fill="#e0506a" opacity="0.85"/>
<circle cx="55.40" cy="335.60" r="1.30" fill="#e0506a" opacity="0.85"/>
<circle cx="57.50" cy="359.40" r="1.30" fill="#e0506a" opacity="0.85"/>
<circle cx="56.50" cy="414.20" r="1.30" fill="#e0506a" opacity="0.85"/>
<circle cx="58.70" cy="432.70" r="1.30" fill="#e0506a" opacity="0.85"/>
<circle cx="121.30" cy="422.00" r="1.30" fill="#e0506a" opacity="0.85"/>
<circle cx="122.30" cy="423.60" r="1.30" fill="#e0506a" opacity="0.85"/>
<circle cx="108.70" cy="440.00" r="1.30" fill="#e0506a" opacity="0.85"/>
<circle cx="125.10" cy="448.90" r="1.30" fill="#e0506a" opacity="0.85"/>
<circle cx="109.40" cy="455.60" r="1.30" fill="#e0506a" opacity="0.85"/>
<circle cx="117.80" cy="455.40" r="1.30" fill="#e0506a" opacity="0.85"/>
<circle cx="117.50" cy="457.00" r="1.30" fill="#e0506a" opacity="0.85"/>
<circle cx="124.70" cy="456.10" r="1.30" fill="#e0506a" opacity="0.85"/>
<circle cx="114.40" cy="466.90" r="1.30" fill="#e0506a" opacity="0.85"/>
<circle cx="118.10" cy="470.00" r="1.30" fill="#e0506a" opacity="0.85"/>
<circle cx="130.70" cy="467.20" r="1.30" fill="#e0506a" opacity="0.85"/>
<circle cx="126.40" cy="478.70" r="1.30" fill="#e0506a" opacity="0.85"/>
<circle cx="134.50" cy="466.50" r="1.30" fill="#e0506a" opacity="0.85"/>
<circle cx="120.00" cy="474.00" r="1.30" fill="#e0506a" opacity="0.85"/>
<circle cx="112.00" cy="476.00" r="1.30" fill="#e0506a" opacity="0.85"/>
<circle cx="155.80" cy="484.80" r="1.30" fill="#e0506a" opacity="0.85"/>
<circle cx="167.00" cy="481.40" r="1.30" fill="#e0506a" opacity="0.85"/>
<circle cx="168.70" cy="483.10" r="1.30" fill="#e0506a" opacity="0.85"/>
<circle cx="167.90" cy="491.30" r="1.30" fill="#e0506a" opacity="0.85"/>
<circle cx="149.00" cy="480.00" r="1.30" fill="#e0506a" opacity="0.85"/>
<circle cx="152.00" cy="486.00" r="1.30" fill="#e0506a" opacity="0.85"/>
<circle cx="53.70" cy="432.70" r="1.40" fill="#9a0f2a" />
<line x1="137.45" y1="283.00" x2="137.45" y2="516.40" stroke="#5a5a5a" stroke-width="0.8" stroke-dasharray="2.4,1.9"/>
<line x1="144.55" y1="283.00" x2="144.55" y2="516.40" stroke="#5a5a5a" stroke-width="0.8" stroke-dasharray="2.4,1.9"/>
<line x1="43.50" y1="495.17" x2="238.80" y2="495.17" stroke="#5a5a5a" stroke-width="0.8" stroke-dasharray="2.4,1.9"/>
<line x1="43.50" y1="283.00" x2="43.50" y2="517.00" stroke="#111" stroke-width="1.25" />
<line x1="42.90" y1="516.40" x2="238.80" y2="516.40" stroke="#111" stroke-width="1.25" />
<line x1="40.30" y1="506.25" x2="43.50" y2="506.25" stroke="#111" stroke-width="1" />
<text x="37.40" y="508.52" font-size="6.6" fill="#333" text-anchor="end" >0</text>
<line x1="40.30" y1="463.66" x2="43.50" y2="463.66" stroke="#111" stroke-width="1" />
<text x="37.40" y="465.93" font-size="6.6" fill="#333" text-anchor="end" >5</text>
<line x1="40.30" y1="421.07" x2="43.50" y2="421.07" stroke="#111" stroke-width="1" />
<text x="37.40" y="423.34" font-size="6.6" fill="#333" text-anchor="end" >10</text>
<line x1="40.30" y1="378.48" x2="43.50" y2="378.48" stroke="#111" stroke-width="1" />
<text x="37.40" y="380.75" font-size="6.6" fill="#333" text-anchor="end" >15</text>
<line x1="40.30" y1="335.89" x2="43.50" y2="335.89" stroke="#111" stroke-width="1" />
<text x="37.40" y="338.16" font-size="6.6" fill="#333" text-anchor="end" >20</text>
<line x1="40.30" y1="293.30" x2="43.50" y2="293.30" stroke="#111" stroke-width="1" />
<text x="37.40" y="295.57" font-size="6.6" fill="#333" text-anchor="end" >25</text>
<line x1="70.08" y1="516.40" x2="70.08" y2="519.00" stroke="#111" stroke-width="1" />
<text x="70.08" y="528.17" font-size="6.6" fill="#333" text-anchor="middle" >−20</text>
<line x1="105.54" y1="516.40" x2="105.54" y2="519.00" stroke="#111" stroke-width="1" />
<text x="105.54" y="528.17" font-size="6.6" fill="#333" text-anchor="middle" >−10</text>
<line x1="141.00" y1="516.40" x2="141.00" y2="519.00" stroke="#111" stroke-width="1" />
<text x="141.00" y="528.17" font-size="6.6" fill="#333" text-anchor="middle" >0</text>
<line x1="176.46" y1="516.40" x2="176.46" y2="519.00" stroke="#111" stroke-width="1" />
<text x="176.46" y="528.17" font-size="6.6" fill="#333" text-anchor="middle" >10</text>
<line x1="211.92" y1="516.40" x2="211.92" y2="519.00" stroke="#111" stroke-width="1" />
<text x="211.92" y="528.17" font-size="6.6" fill="#333" text-anchor="middle" >20</text>
<text x="141" y="541.1" font-size="8.9" fill="#1a1a1a" stroke="#1a1a1a" stroke-width="0.25" text-anchor="middle" textLength="48.6" lengthAdjust="spacingAndGlyphs">Log<tspan font-size="5.8" dy="2">2</tspan><tspan dy="-2"> fold change</tspan></text>
<g transform="translate(26.8,400.1) rotate(-90)"><text x="0" y="0" font-size="8.9" fill="#1a1a1a" stroke="#1a1a1a" stroke-width="0.25" text-anchor="middle" textLength="68.7" lengthAdjust="spacingAndGlyphs">−Log (FDR-adjusted <tspan font-style="italic">P</tspan>)</text></g>
<text x="48.20" y="313.02" font-size="6.45" fill="#1f1f1f" >THBS4</text>
<text x="48.20" y="325.62" font-size="6.45" fill="#1f1f1f" >SAMD5</text>
<text x="45.10" y="344.12" font-size="6.45" fill="#1f1f1f" >CPXM1</text>
<text x="60.00" y="362.32" font-size="6.45" fill="#1f1f1f" >ARHGEF19</text>
<text x="53.10" y="412.12" font-size="6.45" fill="#1f1f1f" >TFPI2</text>
<text x="45.20" y="424.12" font-size="6.45" fill="#1f1f1f" >PRTN3</text>
<text x="68.80" y="424.12" font-size="6.45" fill="#1f1f1f" >TWIST2</text>
<text x="61.80" y="432.22" font-size="6.45" fill="#1f1f1f" >ELANE</text>
<text x="45.30" y="440.22" font-size="6.45" fill="#1f1f1f" >AZU1</text>
<text x="104.70" y="420.42" font-size="6.45" fill="#1f1f1f" >COL1A2</text>
<text x="121.90" y="430.42" font-size="6.45" fill="#1f1f1f" >COL3A1</text>
<text x="90.60" y="437.92" font-size="6.45" fill="#1f1f1f" >COL16A1</text>
<text x="123.90" y="445.22" font-size="6.45" fill="#1f1f1f" >COL6A2</text>
<text x="95.80" y="453.02" font-size="6.45" fill="#1f1f1f" >COL1A1</text>
<text x="127.10" y="456.42" font-size="6.45" fill="#1f1f1f" >FN1</text>
<text x="91.90" y="462.92" font-size="6.45" fill="#1f1f1f" >ERBB2</text>
<text x="115.80" y="465.22" font-size="6.45" fill="#1f1f1f" >COL5A2</text>
<text x="144.80" y="466.62" font-size="6.45" fill="#1f1f1f" >MXRA5</text>
<text x="93.90" y="471.22" font-size="6.45" fill="#1f1f1f" >BOP1</text>
<text x="132.80" y="474.92" font-size="6.45" fill="#1f1f1f" >C3</text>
<text x="98.60" y="479.62" font-size="6.45" fill="#1f1f1f" >STOML2</text>
<text x="149.20" y="479.22" font-size="6.45" fill="#1f1f1f" >IQCH-AS1</text>
<text x="93.20" y="455.12" font-size="6.45" fill="#1f1f1f" text-anchor="end" >SEMA6B</text>
<line x1="93.40" y1="452.60" x2="109.40" y2="455.60" stroke="#555" stroke-width="0.5" />
<line x1="55.40" y1="424.70" x2="53.70" y2="432.70" stroke="#555" stroke-width="0.5" />
<line x1="66.00" y1="423.40" x2="54.30" y2="432.00" stroke="#555" stroke-width="0.5" />
<line x1="62.00" y1="426.00" x2="58.70" y2="432.00" stroke="#555" stroke-width="0.5" />
<line x1="137.50" y1="453.50" x2="137.50" y2="449.00" stroke="#555" stroke-width="0.5" />
<line x1="127.00" y1="465.00" x2="130.70" y2="467.20" stroke="#555" stroke-width="0.5" />
<line x1="141.50" y1="465.00" x2="136.00" y2="466.50" stroke="#555" stroke-width="0.5" />
<line x1="126.50" y1="461.50" x2="124.70" y2="457.00" stroke="#555" stroke-width="0.5" />
<text x="263.80" y="267.26" font-size="11.5" fill="#000" font-weight="bold" >D</text>
<text x="339.50" y="274.10" font-size="7.7" fill="#222" text-anchor="middle" >EBV+/HIV−</text>
<text x="481.25" y="274.10" font-size="7.7" fill="#222" text-anchor="middle" >EBV+/HIV+</text>
<g fill="#626262" opacity="0.78">
<circle cx="426.3" cy="439.8" r="1.15"/>
<circle cx="413.1" cy="488.7" r="1.15"/>
<circle cx="411.6" cy="496.3" r="1.15"/>
<circle cx="423.3" cy="485.7" r="1.15"/>
<circle cx="423.1" cy="491.6" r="1.15"/>
<circle cx="403.4" cy="480.6" r="1.15"/>
<circle cx="423.6" cy="484.8" r="1.15"/>
<circle cx="428.3" cy="472.2" r="1.15"/>
<circle cx="409.8" cy="504.4" r="1.15"/>
<circle cx="399.0" cy="465.4" r="1.15"/>
<circle cx="417.4" cy="498.4" r="1.15"/>
<circle cx="403.3" cy="499.6" r="1.15"/>
<circle cx="418.7" cy="482.1" r="1.15"/>
<circle cx="403.5" cy="500.5" r="1.15"/>
<circle cx="395.5" cy="468.5" r="1.15"/>
<circle cx="408.8" cy="503.7" r="1.15"/>
<circle cx="416.0" cy="495.5" r="1.15"/>
<circle cx="391.1" cy="477.6" r="1.15"/>
<circle cx="394.2" cy="482.2" r="1.15"/>
<circle cx="411.1" cy="505.2" r="1.15"/>
<circle cx="426.2" cy="455.5" r="1.15"/>
<circle cx="420.3" cy="461.3" r="1.15"/>
<circle cx="424.4" cy="475.0" r="1.15"/>
<circle cx="401.1" cy="472.9" r="1.15"/>
<circle cx="404.4" cy="483.7" r="1.15"/>
<circle cx="427.5" cy="463.0" r="1.15"/>
<circle cx="409.3" cy="506.0" r="1.15"/>
<circle cx="414.7" cy="499.3" r="1.15"/>
<circle cx="419.7" cy="496.0" r="1.15"/>
<circle cx="416.1" cy="481.3" r="1.15"/>
<circle cx="424.7" cy="466.3" r="1.15"/>
<circle cx="391.1" cy="475.7" r="1.15"/>
<circle cx="390.9" cy="471.2" r="1.15"/>
<circle cx="393.9" cy="488.8" r="1.15"/>
<circle cx="422.8" cy="485.4" r="1.15"/>
<circle cx="414.6" cy="497.7" r="1.15"/>
<circle cx="398.1" cy="482.4" r="1.15"/>
<circle cx="396.8" cy="464.5" r="1.15"/>
<circle cx="411.1" cy="505.0" r="1.15"/>
<circle cx="420.8" cy="472.2" r="1.15"/>
<circle cx="392.9" cy="457.2" r="1.15"/>
<circle cx="392.1" cy="449.0" r="1.15"/>
<circle cx="427.5" cy="450.4" r="1.15"/>
<circle cx="391.5" cy="456.0" r="1.15"/>
<circle cx="412.9" cy="495.5" r="1.15"/>
<circle cx="407.9" cy="498.4" r="1.15"/>
<circle cx="402.5" cy="496.6" r="1.15"/>
<circle cx="419.4" cy="495.4" r="1.15"/>
<circle cx="423.6" cy="467.0" r="1.15"/>
<circle cx="398.5" cy="469.7" r="1.15"/>
<circle cx="407.4" cy="499.6" r="1.15"/>
<circle cx="424.2" cy="483.3" r="1.15"/>
<circle cx="390.9" cy="458.2" r="1.15"/>
<circle cx="412.8" cy="496.2" r="1.15"/>
<circle cx="420.1" cy="482.6" r="1.15"/>
<circle cx="408.7" cy="499.2" r="1.15"/>
<circle cx="408.2" cy="506.0" r="1.15"/>
<circle cx="406.2" cy="499.0" r="1.15"/>
<circle cx="418.5" cy="478.9" r="1.15"/>
<circle cx="405.3" cy="485.8" r="1.15"/>
<circle cx="405.7" cy="494.5" r="1.15"/>
<circle cx="393.7" cy="455.6" r="1.15"/>
<circle cx="391.8" cy="437.5" r="1.15"/>
<circle cx="392.4" cy="481.4" r="1.15"/>
<circle cx="419.9" cy="471.5" r="1.15"/>
<circle cx="407.7" cy="501.8" r="1.15"/>
<circle cx="417.4" cy="493.4" r="1.15"/>
<circle cx="418.8" cy="464.0" r="1.15"/>
<circle cx="395.8" cy="448.0" r="1.15"/>
<circle cx="397.2" cy="448.5" r="1.15"/>
<circle cx="399.1" cy="488.8" r="1.15"/>
<circle cx="397.0" cy="456.8" r="1.15"/>
<circle cx="400.1" cy="479.8" r="1.15"/>
<circle cx="401.5" cy="479.2" r="1.15"/>
<circle cx="414.2" cy="487.6" r="1.15"/>
<circle cx="408.0" cy="504.1" r="1.15"/>
<circle cx="402.9" cy="489.8" r="1.15"/>
<circle cx="425.4" cy="447.9" r="1.15"/>
<circle cx="420.8" cy="494.0" r="1.15"/>
<circle cx="420.2" cy="483.7" r="1.15"/>
<circle cx="411.3" cy="498.7" r="1.15"/>
<circle cx="401.4" cy="478.4" r="1.15"/>
<circle cx="394.5" cy="489.0" r="1.15"/>
<circle cx="392.1" cy="462.6" r="1.15"/>
<circle cx="401.2" cy="471.6" r="1.15"/>
<circle cx="418.9" cy="492.0" r="1.15"/>
<circle cx="409.9" cy="505.3" r="1.15"/>
<circle cx="408.2" cy="504.1" r="1.15"/>
<circle cx="400.8" cy="469.3" r="1.15"/>
<circle cx="415.7" cy="500.9" r="1.15"/>
<circle cx="397.7" cy="467.8" r="1.15"/>
<circle cx="427.5" cy="467.1" r="1.15"/>
<circle cx="400.0" cy="491.1" r="1.15"/>
<circle cx="419.5" cy="461.6" r="1.15"/>
<circle cx="419.8" cy="468.9" r="1.15"/>
<circle cx="401.0" cy="492.9" r="1.15"/>
<circle cx="394.7" cy="463.6" r="1.15"/>
<circle cx="426.1" cy="446.3" r="1.15"/>
<circle cx="396.0" cy="447.0" r="1.15"/>
<circle cx="418.2" cy="495.3" r="1.15"/>
<circle cx="420.0" cy="462.1" r="1.15"/>
<circle cx="395.4" cy="467.8" r="1.15"/>
<circle cx="427.9" cy="479.7" r="1.15"/>
<circle cx="402.9" cy="497.8" r="1.15"/>
<circle cx="392.4" cy="465.6" r="1.15"/>
<circle cx="406.4" cy="500.8" r="1.15"/>
<circle cx="398.0" cy="480.7" r="1.15"/>
<circle cx="400.0" cy="474.9" r="1.15"/>
<circle cx="406.7" cy="502.3" r="1.15"/>
<circle cx="419.0" cy="460.7" r="1.15"/>
<circle cx="426.8" cy="435.9" r="1.15"/>
<circle cx="397.2" cy="487.0" r="1.15"/>
<circle cx="407.1" cy="497.3" r="1.15"/>
<circle cx="392.3" cy="443.8" r="1.15"/>
<circle cx="408.6" cy="503.8" r="1.15"/>
<circle cx="413.2" cy="498.2" r="1.15"/>
<circle cx="419.7" cy="489.1" r="1.15"/>
<circle cx="425.5" cy="472.2" r="1.15"/>
<circle cx="409.2" cy="503.3" r="1.15"/>
<circle cx="416.3" cy="494.3" r="1.15"/>
<circle cx="422.2" cy="471.3" r="1.15"/>
<circle cx="417.7" cy="475.2" r="1.15"/>
<circle cx="410.7" cy="502.4" r="1.15"/>
<circle cx="423.8" cy="471.3" r="1.15"/>
<circle cx="415.6" cy="497.8" r="1.15"/>
<circle cx="408.4" cy="498.2" r="1.15"/>
<circle cx="404.5" cy="501.3" r="1.15"/>
<circle cx="426.0" cy="460.8" r="1.15"/>
<circle cx="395.5" cy="487.8" r="1.15"/>
<circle cx="399.7" cy="473.3" r="1.15"/>
<circle cx="394.2" cy="439.5" r="1.15"/>
<circle cx="420.3" cy="462.4" r="1.15"/>
<circle cx="420.4" cy="465.8" r="1.15"/>
<circle cx="400.3" cy="485.4" r="1.15"/>
<circle cx="426.1" cy="461.0" r="1.15"/>
<circle cx="412.9" cy="502.5" r="1.15"/>
<circle cx="394.4" cy="482.9" r="1.15"/>
<circle cx="404.8" cy="501.6" r="1.15"/>
<circle cx="408.0" cy="498.7" r="1.15"/>
<circle cx="391.9" cy="439.6" r="1.15"/>
<circle cx="417.7" cy="497.9" r="1.15"/>
<circle cx="391.5" cy="468.9" r="1.15"/>
<circle cx="425.7" cy="465.7" r="1.15"/>
<circle cx="422.8" cy="452.7" r="1.15"/>
<circle cx="428.4" cy="457.2" r="1.15"/>
<circle cx="403.7" cy="499.7" r="1.15"/>
<circle cx="417.0" cy="494.5" r="1.15"/>
<circle cx="413.7" cy="502.3" r="1.15"/>
<circle cx="400.7" cy="496.7" r="1.15"/>
<circle cx="428.2" cy="452.8" r="1.15"/>
<circle cx="423.9" cy="482.1" r="1.15"/>
<circle cx="400.2" cy="494.8" r="1.15"/>
<circle cx="424.8" cy="451.8" r="1.15"/>
<circle cx="417.7" cy="489.3" r="1.15"/>
<circle cx="399.8" cy="460.7" r="1.15"/>
<circle cx="422.2" cy="484.5" r="1.15"/>
<circle cx="408.4" cy="501.7" r="1.15"/>
<circle cx="393.5" cy="436.5" r="1.15"/>
<circle cx="407.4" cy="499.0" r="1.15"/>
<circle cx="416.3" cy="484.9" r="1.15"/>
<circle cx="402.4" cy="490.8" r="1.15"/>
<circle cx="396.5" cy="455.9" r="1.15"/>
<circle cx="404.6" cy="480.6" r="1.15"/>
<circle cx="402.3" cy="498.6" r="1.15"/>
<circle cx="408.1" cy="500.4" r="1.15"/>
<circle cx="399.4" cy="494.0" r="1.15"/>
<circle cx="413.7" cy="501.0" r="1.15"/>
<circle cx="399.4" cy="473.0" r="1.15"/>
<circle cx="402.7" cy="488.9" r="1.15"/>
<circle cx="404.5" cy="499.8" r="1.15"/>
<circle cx="426.7" cy="483.0" r="1.15"/>
<circle cx="392.6" cy="476.1" r="1.15"/>
<circle cx="393.0" cy="454.5" r="1.15"/>
<circle cx="414.2" cy="500.3" r="1.15"/>
<circle cx="408.2" cy="503.6" r="1.15"/>
<circle cx="426.4" cy="483.6" r="1.15"/>
<circle cx="396.9" cy="454.9" r="1.15"/>
<circle cx="419.9" cy="475.3" r="1.15"/>
<circle cx="410.3" cy="503.5" r="1.15"/>
<circle cx="416.3" cy="494.6" r="1.15"/>
<circle cx="417.1" cy="486.8" r="1.15"/>
<circle cx="405.2" cy="490.5" r="1.15"/>
<circle cx="414.9" cy="492.5" r="1.15"/>
<circle cx="396.2" cy="451.0" r="1.15"/>
<circle cx="406.8" cy="501.4" r="1.15"/>
<circle cx="415.7" cy="479.1" r="1.15"/>
<circle cx="405.0" cy="487.7" r="1.15"/>
<circle cx="406.1" cy="495.5" r="1.15"/>
<circle cx="409.0" cy="505.6" r="1.15"/>
<circle cx="426.2" cy="486.2" r="1.15"/>
<circle cx="415.8" cy="497.7" r="1.15"/>
<circle cx="420.7" cy="461.8" r="1.15"/>
<circle cx="425.1" cy="473.3" r="1.15"/>
<circle cx="423.8" cy="469.4" r="1.15"/>
<circle cx="420.9" cy="463.5" r="1.15"/>
<circle cx="391.8" cy="466.7" r="1.15"/>
<circle cx="409.5" cy="504.5" r="1.15"/>
<circle cx="420.1" cy="477.9" r="1.15"/>
<circle cx="421.7" cy="457.2" r="1.15"/>
<circle cx="411.9" cy="502.9" r="1.15"/>
<circle cx="413.6" cy="489.8" r="1.15"/>
<circle cx="413.5" cy="500.1" r="1.15"/>
<circle cx="424.4" cy="450.6" r="1.15"/>
<circle cx="425.5" cy="438.7" r="1.15"/>
<circle cx="423.3" cy="482.6" r="1.15"/>
<circle cx="411.7" cy="502.6" r="1.15"/>
<circle cx="408.1" cy="503.0" r="1.15"/>
<circle cx="424.6" cy="489.1" r="1.15"/>
<circle cx="398.6" cy="472.5" r="1.15"/>
<circle cx="399.8" cy="495.6" r="1.15"/>
<circle cx="395.9" cy="481.1" r="1.15"/>
<circle cx="393.4" cy="469.2" r="1.15"/>
<circle cx="405.0" cy="498.6" r="1.15"/>
<circle cx="390.9" cy="476.2" r="1.15"/>
<circle cx="407.8" cy="505.6" r="1.15"/>
<circle cx="406.1" cy="500.2" r="1.15"/>
<circle cx="418.5" cy="484.2" r="1.15"/>
<circle cx="390.8" cy="476.3" r="1.15"/>
<circle cx="404.8" cy="495.7" r="1.15"/>
<circle cx="398.0" cy="482.3" r="1.15"/>
<circle cx="413.8" cy="491.3" r="1.15"/>
<circle cx="404.6" cy="489.5" r="1.15"/>
<circle cx="428.0" cy="471.5" r="1.15"/>
<circle cx="397.4" cy="481.8" r="1.15"/>
<circle cx="391.3" cy="479.8" r="1.15"/>
<circle cx="403.6" cy="499.3" r="1.15"/>
<circle cx="402.8" cy="476.0" r="1.15"/>
<circle cx="416.1" cy="486.4" r="1.15"/>
<circle cx="395.9" cy="480.8" r="1.15"/>
<circle cx="404.7" cy="495.0" r="1.15"/>
<circle cx="397.2" cy="488.1" r="1.15"/>
<circle cx="419.5" cy="490.6" r="1.15"/>
<circle cx="426.6" cy="463.2" r="1.15"/>
<circle cx="396.6" cy="454.3" r="1.15"/>
<circle cx="419.0" cy="466.5" r="1.15"/>
<circle cx="394.2" cy="476.4" r="1.15"/>
<circle cx="419.6" cy="464.7" r="1.15"/>
<circle cx="416.8" cy="497.0" r="1.15"/>
<circle cx="394.3" cy="486.8" r="1.15"/>
<circle cx="419.2" cy="490.0" r="1.15"/>
<circle cx="397.0" cy="484.8" r="1.15"/>
<circle cx="399.2" cy="478.8" r="1.15"/>
<circle cx="417.6" cy="497.2" r="1.15"/>
<circle cx="391.4" cy="481.7" r="1.15"/>
<circle cx="407.6" cy="495.5" r="1.15"/>
<circle cx="398.8" cy="487.9" r="1.15"/>
<circle cx="396.5" cy="456.1" r="1.15"/>
<circle cx="403.4" cy="493.6" r="1.15"/>
<circle cx="423.6" cy="472.7" r="1.15"/>
<circle cx="414.5" cy="495.9" r="1.15"/>
<circle cx="405.8" cy="494.3" r="1.15"/>
<circle cx="403.6" cy="485.6" r="1.15"/>
<circle cx="424.9" cy="488.1" r="1.15"/>
<circle cx="423.0" cy="490.0" r="1.15"/>
<circle cx="425.0" cy="473.4" r="1.15"/>
<circle cx="397.4" cy="456.3" r="1.15"/>
<circle cx="407.5" cy="505.6" r="1.15"/>
<circle cx="424.4" cy="467.3" r="1.15"/>
<circle cx="406.0" cy="500.9" r="1.15"/>
<circle cx="396.8" cy="488.4" r="1.15"/>
<circle cx="405.9" cy="492.4" r="1.15"/>
<circle cx="400.3" cy="487.2" r="1.15"/>
<circle cx="395.0" cy="461.7" r="1.15"/>
<circle cx="400.6" cy="488.5" r="1.15"/>
<circle cx="420.4" cy="481.8" r="1.15"/>
<circle cx="414.1" cy="493.6" r="1.15"/>
<circle cx="391.9" cy="459.2" r="1.15"/>
<circle cx="403.2" cy="487.7" r="1.15"/>
<circle cx="413.3" cy="493.6" r="1.15"/>
<circle cx="423.1" cy="491.4" r="1.15"/>
<circle cx="407.6" cy="496.8" r="1.15"/>
<circle cx="395.6" cy="441.0" r="1.15"/>
<circle cx="424.2" cy="439.1" r="1.15"/>
<circle cx="392.0" cy="450.0" r="1.15"/>
<circle cx="417.5" cy="483.1" r="1.15"/>
<circle cx="425.8" cy="479.6" r="1.15"/>
<circle cx="404.3" cy="485.1" r="1.15"/>
<circle cx="397.1" cy="471.1" r="1.15"/>
<circle cx="406.7" cy="497.6" r="1.15"/>
<circle cx="423.7" cy="482.2" r="1.15"/>
<circle cx="391.8" cy="482.0" r="1.15"/>
<circle cx="404.2" cy="493.9" r="1.15"/>
<circle cx="402.2" cy="470.0" r="1.15"/>
<circle cx="405.2" cy="499.2" r="1.15"/>
<circle cx="427.0" cy="453.4" r="1.15"/>
<circle cx="421.2" cy="478.9" r="1.15"/>
<circle cx="396.7" cy="492.1" r="1.15"/>
<circle cx="391.5" cy="468.6" r="1.15"/>
<circle cx="405.0" cy="492.1" r="1.15"/>
<circle cx="407.3" cy="504.3" r="1.15"/>
<circle cx="423.8" cy="481.1" r="1.15"/>
<circle cx="420.2" cy="466.5" r="1.15"/>
<circle cx="391.4" cy="477.5" r="1.15"/>
<circle cx="421.2" cy="486.7" r="1.15"/>
<circle cx="414.4" cy="497.8" r="1.15"/>
<circle cx="399.4" cy="475.4" r="1.15"/>
<circle cx="410.4" cy="502.1" r="1.15"/>
<circle cx="411.6" cy="502.1" r="1.15"/>
<circle cx="423.7" cy="456.1" r="1.15"/>
<circle cx="426.1" cy="449.1" r="1.15"/>
<circle cx="399.6" cy="487.0" r="1.15"/>
<circle cx="424.3" cy="477.6" r="1.15"/>
<circle cx="423.9" cy="476.2" r="1.15"/>
<circle cx="397.5" cy="471.4" r="1.15"/>
<circle cx="423.0" cy="449.4" r="1.15"/>
<circle cx="398.3" cy="492.7" r="1.15"/>
<circle cx="399.5" cy="491.3" r="1.15"/>
<circle cx="404.7" cy="482.8" r="1.15"/>
<circle cx="418.9" cy="490.6" r="1.15"/>
<circle cx="409.7" cy="503.6" r="1.15"/>
<circle cx="393.1" cy="475.2" r="1.15"/>
<circle cx="398.7" cy="492.3" r="1.15"/>
<circle cx="396.8" cy="476.0" r="1.15"/>
<circle cx="395.5" cy="485.5" r="1.15"/>
<circle cx="423.8" cy="472.1" r="1.15"/>
<circle cx="401.4" cy="495.3" r="1.15"/>
<circle cx="409.0" cy="504.2" r="1.15"/>
<circle cx="391.2" cy="482.1" r="1.15"/>
<circle cx="426.9" cy="485.8" r="1.15"/>
<circle cx="404.9" cy="499.4" r="1.15"/>
<circle cx="400.2" cy="486.3" r="1.15"/>
<circle cx="400.7" cy="496.9" r="1.15"/>
<circle cx="409.2" cy="501.2" r="1.15"/>
<circle cx="391.4" cy="443.1" r="1.15"/>
<circle cx="405.9" cy="494.3" r="1.15"/>
<circle cx="424.6" cy="485.0" r="1.15"/>
<circle cx="424.3" cy="468.6" r="1.15"/>
<circle cx="416.9" cy="489.2" r="1.15"/>
<circle cx="408.2" cy="501.1" r="1.15"/>
<circle cx="393.7" cy="484.2" r="1.15"/>
<circle cx="424.3" cy="482.5" r="1.15"/>
<circle cx="426.7" cy="485.5" r="1.15"/>
<circle cx="402.2" cy="483.8" r="1.15"/>
<circle cx="400.5" cy="491.9" r="1.15"/>
<circle cx="420.1" cy="464.8" r="1.15"/>
<circle cx="415.8" cy="490.0" r="1.15"/>
<circle cx="405.0" cy="495.6" r="1.15"/>
<circle cx="405.4" cy="491.0" r="1.15"/>
<circle cx="410.3" cy="502.7" r="1.15"/>
<circle cx="422.4" cy="482.0" r="1.15"/>
<circle cx="411.9" cy="503.0" r="1.15"/>
<circle cx="405.3" cy="493.3" r="1.15"/>
<circle cx="413.5" cy="502.6" r="1.15"/>
<circle cx="395.3" cy="449.0" r="1.15"/>
<circle cx="423.6" cy="452.0" r="1.15"/>
<circle cx="413.1" cy="499.9" r="1.15"/>
<circle cx="413.6" cy="496.7" r="1.15"/>
<circle cx="418.9" cy="484.2" r="1.15"/>
<circle cx="420.2" cy="462.7" r="1.15"/>
<circle cx="417.2" cy="476.5" r="1.15"/>
<circle cx="403.5" cy="500.5" r="1.15"/>
<circle cx="414.2" cy="487.9" r="1.15"/>
<circle cx="401.9" cy="492.5" r="1.15"/>
<circle cx="419.8" cy="467.8" r="1.15"/>
<circle cx="397.1" cy="492.3" r="1.15"/>
<circle cx="427.6" cy="447.5" r="1.15"/>
<circle cx="416.0" cy="497.8" r="1.15"/>
<circle cx="415.9" cy="482.9" r="1.15"/>
<circle cx="416.6" cy="491.7" r="1.15"/>
<circle cx="411.6" cy="499.8" r="1.15"/>
<circle cx="398.8" cy="481.4" r="1.15"/>
<circle cx="427.4" cy="476.9" r="1.15"/>
<circle cx="411.6" cy="503.9" r="1.15"/>
<circle cx="419.1" cy="495.2" r="1.15"/>
<circle cx="419.6" cy="467.6" r="1.15"/>
<circle cx="424.7" cy="474.3" r="1.15"/>
<circle cx="425.3" cy="449.5" r="1.15"/>
<circle cx="404.2" cy="499.9" r="1.15"/>
<circle cx="420.9" cy="475.1" r="1.15"/>
<circle cx="426.8" cy="463.6" r="1.15"/>
<circle cx="399.4" cy="487.7" r="1.15"/>
<circle cx="409.9" cy="505.6" r="1.15"/>
<circle cx="405.5" cy="499.7" r="1.15"/>
<circle cx="398.5" cy="462.4" r="1.15"/>
<circle cx="401.3" cy="498.2" r="1.15"/>
<circle cx="428.0" cy="476.4" r="1.15"/>
<circle cx="418.5" cy="486.6" r="1.15"/>
<circle cx="408.9" cy="503.6" r="1.15"/>
<circle cx="401.8" cy="483.4" r="1.15"/>
<circle cx="417.9" cy="487.2" r="1.15"/>
<circle cx="421.8" cy="453.9" r="1.15"/>
<circle cx="396.1" cy="456.0" r="1.15"/>
<circle cx="398.9" cy="494.2" r="1.15"/>
<circle cx="427.8" cy="479.7" r="1.15"/>
<circle cx="413.3" cy="494.8" r="1.15"/>
<circle cx="392.8" cy="458.4" r="1.15"/>
<circle cx="418.4" cy="483.0" r="1.15"/>
<circle cx="395.4" cy="477.0" r="1.15"/>
<circle cx="395.4" cy="481.1" r="1.15"/>
<circle cx="414.2" cy="497.8" r="1.15"/>
<circle cx="409.0" cy="503.9" r="1.15"/>
<circle cx="398.9" cy="454.3" r="1.15"/>
<circle cx="411.2" cy="503.5" r="1.15"/>
<circle cx="398.0" cy="456.7" r="1.15"/>
<circle cx="407.3" cy="498.7" r="1.15"/>
<circle cx="417.0" cy="486.3" r="1.15"/>
<circle cx="412.4" cy="489.5" r="1.15"/>
<circle cx="416.9" cy="482.7" r="1.15"/>
<circle cx="393.3" cy="435.9" r="1.15"/>
<circle cx="398.6" cy="456.2" r="1.15"/>
<circle cx="394.7" cy="472.8" r="1.15"/>
<circle cx="397.3" cy="455.7" r="1.15"/>
<circle cx="396.7" cy="459.5" r="1.15"/>
<circle cx="424.5" cy="473.0" r="1.15"/>
<circle cx="404.3" cy="485.9" r="1.15"/>
<circle cx="407.9" cy="497.2" r="1.15"/>
<circle cx="411.0" cy="503.4" r="1.15"/>
<circle cx="393.2" cy="461.2" r="1.15"/>
<circle cx="413.5" cy="501.4" r="1.15"/>
<circle cx="393.7" cy="438.8" r="1.15"/>
<circle cx="410.1" cy="504.0" r="1.15"/>
<circle cx="398.7" cy="469.4" r="1.15"/>
<circle cx="413.7" cy="499.2" r="1.15"/>
<circle cx="392.1" cy="479.6" r="1.15"/>
<circle cx="404.7" cy="498.3" r="1.15"/>
<circle cx="427.9" cy="452.1" r="1.15"/>
<circle cx="422.7" cy="490.5" r="1.15"/>
<circle cx="415.9" cy="500.3" r="1.15"/>
<circle cx="411.9" cy="498.1" r="1.15"/>
<circle cx="410.4" cy="502.8" r="1.15"/>
<circle cx="401.1" cy="494.9" r="1.15"/>
<circle cx="420.7" cy="451.6" r="1.15"/>
<circle cx="405.6" cy="500.9" r="1.15"/>
<circle cx="410.9" cy="500.6" r="1.15"/>
<circle cx="393.5" cy="448.2" r="1.15"/>
<circle cx="422.6" cy="473.8" r="1.15"/>
<circle cx="395.6" cy="473.6" r="1.15"/>
<circle cx="424.5" cy="474.6" r="1.15"/>
<circle cx="392.6" cy="488.0" r="1.15"/>
<circle cx="401.4" cy="491.1" r="1.15"/>
<circle cx="407.6" cy="499.5" r="1.15"/>
<circle cx="413.0" cy="500.6" r="1.15"/>
<circle cx="404.3" cy="500.9" r="1.15"/>
<circle cx="401.9" cy="496.3" r="1.15"/>
<circle cx="426.7" cy="483.7" r="1.15"/>
<circle cx="418.4" cy="491.7" r="1.15"/>
<circle cx="423.8" cy="484.3" r="1.15"/>
<circle cx="406.9" cy="503.9" r="1.15"/>
<circle cx="397.3" cy="470.9" r="1.15"/>
<circle cx="423.0" cy="450.8" r="1.15"/>
<circle cx="426.3" cy="476.0" r="1.15"/>
<circle cx="424.9" cy="481.3" r="1.15"/>
<circle cx="411.8" cy="499.8" r="1.15"/>
<circle cx="399.3" cy="490.8" r="1.15"/>
<circle cx="427.5" cy="465.1" r="1.15"/>
<circle cx="419.0" cy="478.1" r="1.15"/>
<circle cx="405.4" cy="499.6" r="1.15"/>
<circle cx="393.6" cy="482.5" r="1.15"/>
<circle cx="403.7" cy="501.5" r="1.15"/>
<circle cx="423.9" cy="476.2" r="1.15"/>
<circle cx="412.6" cy="491.2" r="1.15"/>
<circle cx="398.2" cy="490.5" r="1.15"/>
<circle cx="395.5" cy="472.2" r="1.15"/>
<circle cx="416.7" cy="497.1" r="1.15"/>
<circle cx="391.9" cy="467.0" r="1.15"/>
<circle cx="415.4" cy="499.9" r="1.15"/>
<circle cx="399.6" cy="465.9" r="1.15"/>
<circle cx="426.1" cy="452.3" r="1.15"/>
<circle cx="425.7" cy="462.6" r="1.15"/>
<circle cx="400.6" cy="474.3" r="1.15"/>
<circle cx="423.4" cy="450.0" r="1.15"/>
<circle cx="391.6" cy="458.0" r="1.15"/>
<circle cx="408.5" cy="504.1" r="1.15"/>
<circle cx="408.4" cy="505.0" r="1.15"/>
<circle cx="421.9" cy="476.8" r="1.15"/>
<circle cx="405.5" cy="501.3" r="1.15"/>
<circle cx="397.0" cy="469.9" r="1.15"/>
<circle cx="408.7" cy="504.2" r="1.15"/>
<circle cx="398.0" cy="492.6" r="1.15"/>
<circle cx="406.8" cy="503.1" r="1.15"/>
<circle cx="412.0" cy="502.9" r="1.15"/>
<circle cx="419.9" cy="477.8" r="1.15"/>
<circle cx="407.8" cy="500.9" r="1.15"/>
<circle cx="406.8" cy="503.1" r="1.15"/>
<circle cx="416.4" cy="484.9" r="1.15"/>
<circle cx="416.7" cy="493.8" r="1.15"/>
<circle cx="397.9" cy="492.3" r="1.15"/>
<circle cx="391.2" cy="437.9" r="1.15"/>
<circle cx="426.2" cy="463.3" r="1.15"/>
<circle cx="403.2" cy="482.0" r="1.15"/>
<circle cx="420.6" cy="463.4" r="1.15"/>
<circle cx="394.1" cy="465.1" r="1.15"/>
<circle cx="406.2" cy="489.3" r="1.15"/>
<circle cx="407.3" cy="503.1" r="1.15"/>
<circle cx="395.7" cy="487.5" r="1.15"/>
<circle cx="415.0" cy="496.2" r="1.15"/>
<circle cx="398.0" cy="494.2" r="1.15"/>
<circle cx="401.0" cy="473.6" r="1.15"/>
<circle cx="402.2" cy="473.2" r="1.15"/>
<circle cx="427.3" cy="454.3" r="1.15"/>
<circle cx="407.5" cy="495.6" r="1.15"/>
<circle cx="394.0" cy="459.8" r="1.15"/>
<circle cx="413.0" cy="501.5" r="1.15"/>
<circle cx="416.6" cy="472.7" r="1.15"/>
<circle cx="405.3" cy="495.8" r="1.15"/>
<circle cx="398.3" cy="467.6" r="1.15"/>
<circle cx="428.0" cy="480.7" r="1.15"/>
<circle cx="402.6" cy="486.1" r="1.15"/>
<circle cx="404.1" cy="497.5" r="1.15"/>
<circle cx="418.5" cy="464.3" r="1.15"/>
<circle cx="392.6" cy="447.1" r="1.15"/>
<circle cx="422.0" cy="463.2" r="1.15"/>
<circle cx="419.5" cy="486.1" r="1.15"/>
<circle cx="426.1" cy="451.7" r="1.15"/>
<circle cx="399.5" cy="488.2" r="1.15"/>
<circle cx="414.3" cy="502.0" r="1.15"/>
<circle cx="395.3" cy="443.2" r="1.15"/>
<circle cx="423.8" cy="462.8" r="1.15"/>
<circle cx="392.6" cy="452.9" r="1.15"/>
<circle cx="420.9" cy="472.1" r="1.15"/>
<circle cx="421.6" cy="464.3" r="1.15"/>
<circle cx="398.7" cy="472.5" r="1.15"/>
<circle cx="414.8" cy="495.7" r="1.15"/>
<circle cx="418.9" cy="489.5" r="1.15"/>
<circle cx="397.7" cy="461.3" r="1.15"/>
<circle cx="424.6" cy="463.7" r="1.15"/>
<circle cx="394.2" cy="481.1" r="1.15"/>
<circle cx="412.6" cy="503.3" r="1.15"/>
<circle cx="422.2" cy="491.6" r="1.15"/>
<circle cx="396.6" cy="457.0" r="1.15"/>
<circle cx="425.3" cy="457.1" r="1.15"/>
<circle cx="397.3" cy="461.3" r="1.15"/>
<circle cx="422.2" cy="488.6" r="1.15"/>
<circle cx="420.2" cy="476.6" r="1.15"/>
<circle cx="400.1" cy="486.0" r="1.15"/>
<circle cx="425.5" cy="459.0" r="1.15"/>
<circle cx="421.4" cy="476.1" r="1.15"/>
<circle cx="413.0" cy="489.6" r="1.15"/>
<circle cx="413.1" cy="496.6" r="1.15"/>
<circle cx="420.8" cy="467.4" r="1.15"/>
<circle cx="396.1" cy="454.9" r="1.15"/>
<circle cx="413.6" cy="496.7" r="1.15"/>
<circle cx="403.0" cy="490.2" r="1.15"/>
<circle cx="423.6" cy="477.9" r="1.15"/>
<circle cx="404.4" cy="494.0" r="1.15"/>
<circle cx="409.3" cy="504.3" r="1.15"/>
<circle cx="408.5" cy="501.9" r="1.15"/>
<circle cx="414.5" cy="492.2" r="1.15"/>
<circle cx="408.4" cy="502.2" r="1.15"/>
<circle cx="421.3" cy="480.5" r="1.15"/>
<circle cx="396.8" cy="478.9" r="1.15"/>
<circle cx="396.7" cy="491.2" r="1.15"/>
<circle cx="402.3" cy="498.6" r="1.15"/>
<circle cx="411.8" cy="501.2" r="1.15"/>
<circle cx="402.2" cy="482.0" r="1.15"/>
<circle cx="404.8" cy="497.4" r="1.15"/>
<circle cx="392.1" cy="473.1" r="1.15"/>
<circle cx="399.8" cy="480.6" r="1.15"/>
<circle cx="396.4" cy="472.7" r="1.15"/>
<circle cx="422.2" cy="457.9" r="1.15"/>
<circle cx="420.5" cy="456.7" r="1.15"/>
<circle cx="422.8" cy="485.7" r="1.15"/>
<circle cx="417.6" cy="497.9" r="1.15"/>
<circle cx="414.2" cy="492.4" r="1.15"/>
<circle cx="406.2" cy="503.0" r="1.15"/>
<circle cx="391.5" cy="477.6" r="1.15"/>
<circle cx="399.8" cy="490.0" r="1.15"/>
<circle cx="401.2" cy="466.3" r="1.15"/>
<circle cx="416.3" cy="481.1" r="1.15"/>
<circle cx="416.4" cy="482.2" r="1.15"/>
<circle cx="421.4" cy="453.8" r="1.15"/>
<circle cx="412.0" cy="503.4" r="1.15"/>
<circle cx="412.5" cy="504.2" r="1.15"/>
<circle cx="424.9" cy="458.1" r="1.15"/>
<circle cx="403.3" cy="499.4" r="1.15"/>
<circle cx="398.5" cy="492.4" r="1.15"/>
<circle cx="421.7" cy="484.8" r="1.15"/>
<circle cx="404.4" cy="482.2" r="1.15"/>
<circle cx="423.0" cy="472.8" r="1.15"/>
<circle cx="391.1" cy="473.0" r="1.15"/>
<circle cx="412.5" cy="504.3" r="1.15"/>
<circle cx="421.3" cy="463.5" r="1.15"/>
<circle cx="392.4" cy="447.6" r="1.15"/>
<circle cx="412.4" cy="503.2" r="1.15"/>
<circle cx="396.3" cy="462.9" r="1.15"/>
<circle cx="421.1" cy="462.5" r="1.15"/>
<circle cx="397.5" cy="491.8" r="1.15"/>
<circle cx="396.7" cy="453.9" r="1.15"/>
<circle cx="424.1" cy="453.3" r="1.15"/>
<circle cx="419.7" cy="466.7" r="1.15"/>
<circle cx="396.0" cy="490.9" r="1.15"/>
<circle cx="396.6" cy="445.5" r="1.15"/>
<circle cx="417.1" cy="486.1" r="1.15"/>
<circle cx="399.1" cy="471.0" r="1.15"/>
<circle cx="427.9" cy="451.9" r="1.15"/>
<circle cx="395.2" cy="453.0" r="1.15"/>
<circle cx="395.0" cy="476.7" r="1.15"/>
<circle cx="404.0" cy="497.8" r="1.15"/>
<circle cx="411.9" cy="504.8" r="1.15"/>
<circle cx="408.2" cy="498.1" r="1.15"/>
<circle cx="397.0" cy="461.7" r="1.15"/>
<circle cx="400.7" cy="464.7" r="1.15"/>
<circle cx="407.2" cy="500.6" r="1.15"/>
<circle cx="415.5" cy="488.3" r="1.15"/>
<circle cx="428.9" cy="451.5" r="1.15"/>
<circle cx="412.5" cy="499.1" r="1.15"/>
<circle cx="395.6" cy="453.6" r="1.15"/>
<circle cx="403.8" cy="500.0" r="1.15"/>
<circle cx="426.0" cy="476.0" r="1.15"/>
<circle cx="406.2" cy="504.0" r="1.15"/>
<circle cx="407.8" cy="502.6" r="1.15"/>
<circle cx="398.7" cy="490.5" r="1.15"/>
<circle cx="399.8" cy="467.0" r="1.15"/>
<circle cx="399.9" cy="463.5" r="1.15"/>
<circle cx="396.1" cy="479.2" r="1.15"/>
<circle cx="405.4" cy="499.4" r="1.15"/>
<circle cx="402.9" cy="495.8" r="1.15"/>
<circle cx="411.0" cy="505.9" r="1.15"/>
<circle cx="405.8" cy="500.9" r="1.15"/>
<circle cx="396.1" cy="482.7" r="1.15"/>
<circle cx="407.3" cy="503.3" r="1.15"/>
<circle cx="419.7" cy="491.4" r="1.15"/>
<circle cx="400.6" cy="470.3" r="1.15"/>
<circle cx="398.3" cy="478.8" r="1.15"/>
<circle cx="416.7" cy="494.2" r="1.15"/>
<circle cx="403.8" cy="492.6" r="1.15"/>
<circle cx="395.3" cy="470.5" r="1.15"/>
<circle cx="395.8" cy="484.5" r="1.15"/>
<circle cx="391.2" cy="482.4" r="1.15"/>
<circle cx="394.5" cy="445.7" r="1.15"/>
<circle cx="421.8" cy="469.8" r="1.15"/>
<circle cx="419.7" cy="493.1" r="1.15"/>
<circle cx="401.0" cy="492.0" r="1.15"/>
<circle cx="407.2" cy="502.9" r="1.15"/>
<circle cx="401.5" cy="481.3" r="1.15"/>
<circle cx="427.3" cy="480.6" r="1.15"/>
<circle cx="415.1" cy="495.0" r="1.15"/>
<circle cx="419.5" cy="468.9" r="1.15"/>
<circle cx="397.1" cy="449.3" r="1.15"/>
<circle cx="414.3" cy="495.3" r="1.15"/>
<circle cx="426.8" cy="456.5" r="1.15"/>
<circle cx="404.9" cy="502.3" r="1.15"/>
<circle cx="414.2" cy="502.4" r="1.15"/>
<circle cx="413.3" cy="502.2" r="1.15"/>
<circle cx="393.6" cy="463.8" r="1.15"/>
<circle cx="397.7" cy="447.1" r="1.15"/>
<circle cx="421.9" cy="468.3" r="1.15"/>
<circle cx="419.9" cy="490.1" r="1.15"/>
<circle cx="411.4" cy="505.0" r="1.15"/>
<circle cx="400.9" cy="484.8" r="1.15"/>
<circle cx="402.3" cy="488.5" r="1.15"/>
<circle cx="423.4" cy="449.3" r="1.15"/>
<circle cx="428.4" cy="448.9" r="1.15"/>
<circle cx="402.4" cy="497.0" r="1.15"/>
<circle cx="410.8" cy="504.4" r="1.15"/>
<circle cx="427.7" cy="477.6" r="1.15"/>
<circle cx="391.7" cy="481.2" r="1.15"/>
<circle cx="411.6" cy="498.5" r="1.15"/>
<circle cx="413.9" cy="499.2" r="1.15"/>
<circle cx="416.0" cy="494.1" r="1.15"/>
<circle cx="419.0" cy="490.7" r="1.15"/>
<circle cx="419.1" cy="472.6" r="1.15"/>
<circle cx="393.2" cy="440.1" r="1.15"/>
<circle cx="413.8" cy="494.0" r="1.15"/>
<circle cx="391.9" cy="445.6" r="1.15"/>
<circle cx="413.3" cy="494.8" r="1.15"/>
<circle cx="421.7" cy="470.7" r="1.15"/>
<circle cx="402.1" cy="484.5" r="1.15"/>
<circle cx="399.3" cy="494.6" r="1.15"/>
<circle cx="393.9" cy="456.9" r="1.15"/>
<circle cx="393.1" cy="447.2" r="1.15"/>
<circle cx="419.8" cy="460.2" r="1.15"/>
<circle cx="402.9" cy="498.2" r="1.15"/>
<circle cx="396.2" cy="474.1" r="1.15"/>
<circle cx="414.5" cy="500.4" r="1.15"/>
<circle cx="423.3" cy="471.5" r="1.15"/>
<circle cx="400.5" cy="492.7" r="1.15"/>
<circle cx="395.5" cy="478.3" r="1.15"/>
<circle cx="396.8" cy="483.4" r="1.15"/>
<circle cx="401.6" cy="495.6" r="1.15"/>
<circle cx="395.2" cy="458.6" r="1.15"/>
<circle cx="410.3" cy="503.6" r="1.15"/>
<circle cx="395.1" cy="485.3" r="1.15"/>
<circle cx="427.2" cy="461.7" r="1.15"/>
<circle cx="421.2" cy="458.6" r="1.15"/>
<circle cx="395.1" cy="452.9" r="1.15"/>
<circle cx="402.2" cy="469.7" r="1.15"/>
<circle cx="414.6" cy="500.9" r="1.15"/>
<circle cx="422.3" cy="488.8" r="1.15"/>
<circle cx="405.6" cy="502.0" r="1.15"/>
</g>
<g>
<circle cx="388.1" cy="450.4" r="1.3" fill="#3b87c6" opacity="0.85"/>
<circle cx="385.6" cy="465.0" r="1.3" fill="#2a6aa6" opacity="0.85"/>
<circle cx="388.9" cy="486.5" r="1.3" fill="#5aa0d8" opacity="0.85"/>
<circle cx="390.3" cy="441.7" r="1.3" fill="#3b87c6" opacity="0.85"/>
<circle cx="391.3" cy="483.7" r="1.3" fill="#5aa0d8" opacity="0.85"/>
<circle cx="381.3" cy="470.1" r="1.3" fill="#6a90b5" opacity="0.85"/>
<circle cx="391.0" cy="450.7" r="1.3" fill="#3b87c6" opacity="0.85"/>
<circle cx="387.8" cy="483.7" r="1.3" fill="#3b87c6" opacity="0.85"/>
<circle cx="386.3" cy="476.4" r="1.3" fill="#5aa0d8" opacity="0.85"/>
<circle cx="387.8" cy="475.2" r="1.3" fill="#5aa0d8" opacity="0.85"/>
<circle cx="387.9" cy="468.1" r="1.3" fill="#4b97d4" opacity="0.85"/>
<circle cx="389.0" cy="462.1" r="1.3" fill="#2f78b8" opacity="0.85"/>
<circle cx="389.1" cy="478.5" r="1.3" fill="#3b87c6" opacity="0.85"/>
<circle cx="389.0" cy="441.8" r="1.3" fill="#3b87c6" opacity="0.85"/>
<circle cx="390.8" cy="445.7" r="1.3" fill="#4b97d4" opacity="0.85"/>
<circle cx="389.7" cy="445.9" r="1.3" fill="#4b97d4" opacity="0.85"/>
<circle cx="391.0" cy="450.1" r="1.3" fill="#2f78b8" opacity="0.85"/>
<circle cx="387.5" cy="461.3" r="1.3" fill="#4b97d4" opacity="0.85"/>
<circle cx="384.9" cy="447.5" r="1.3" fill="#3b87c6" opacity="0.85"/>
<circle cx="388.1" cy="453.7" r="1.3" fill="#2f78b8" opacity="0.85"/>
<circle cx="388.6" cy="476.7" r="1.3" fill="#2a6aa6" opacity="0.85"/>
<circle cx="382.0" cy="441.0" r="1.3" fill="#4f7ca8" opacity="0.85"/>
<circle cx="391.4" cy="478.8" r="1.3" fill="#5aa0d8" opacity="0.85"/>
<circle cx="384.6" cy="460.2" r="1.3" fill="#4b97d4" opacity="0.85"/>
<circle cx="383.9" cy="441.9" r="1.3" fill="#5a84ad" opacity="0.85"/>
<circle cx="387.1" cy="452.6" r="1.3" fill="#4b97d4" opacity="0.85"/>
<circle cx="390.1" cy="446.6" r="1.3" fill="#2a6aa6" opacity="0.85"/>
<circle cx="389.5" cy="456.8" r="1.3" fill="#2f78b8" opacity="0.85"/>
<circle cx="390.1" cy="457.4" r="1.3" fill="#4b97d4" opacity="0.85"/>
<circle cx="391.0" cy="461.7" r="1.3" fill="#3b87c6" opacity="0.85"/>
<circle cx="390.8" cy="441.3" r="1.3" fill="#3b87c6" opacity="0.85"/>
<circle cx="383.2" cy="467.2" r="1.3" fill="#4f7ca8" opacity="0.85"/>
<circle cx="385.6" cy="453.0" r="1.3" fill="#4b97d4" opacity="0.85"/>
<circle cx="391.2" cy="465.9" r="1.3" fill="#4b97d4" opacity="0.85"/>
<circle cx="390.2" cy="438.6" r="1.3" fill="#3b87c6" opacity="0.85"/>
<circle cx="386.5" cy="485.8" r="1.3" fill="#3b87c6" opacity="0.85"/>
<circle cx="390.4" cy="472.7" r="1.3" fill="#3b87c6" opacity="0.85"/>
<circle cx="388.2" cy="452.5" r="1.3" fill="#4b97d4" opacity="0.85"/>
<circle cx="391.0" cy="477.2" r="1.3" fill="#3b87c6" opacity="0.85"/>
<circle cx="389.3" cy="463.0" r="1.3" fill="#2f78b8" opacity="0.85"/>
<circle cx="435.0" cy="456.0" r="1.3" fill="#3b87c6" opacity="0.85"/>
<circle cx="432.2" cy="446.1" r="1.3" fill="#2f78b8" opacity="0.85"/>
<circle cx="430.1" cy="456.3" r="1.3" fill="#4b97d4" opacity="0.85"/>
<circle cx="431.7" cy="475.1" r="1.3" fill="#5aa0d8" opacity="0.85"/>
<circle cx="434.8" cy="460.0" r="1.3" fill="#4b97d4" opacity="0.85"/>
<circle cx="430.0" cy="447.7" r="1.3" fill="#3b87c6" opacity="0.85"/>
<circle cx="431.9" cy="483.5" r="1.3" fill="#3b87c6" opacity="0.85"/>
<circle cx="428.6" cy="444.4" r="1.3" fill="#3b87c6" opacity="0.85"/>
<circle cx="444.9" cy="459.9" r="1.3" fill="#2a6aa6" opacity="0.85"/>
<circle cx="437.1" cy="483.9" r="1.3" fill="#4b97d4" opacity="0.85"/>
<circle cx="430.9" cy="468.9" r="1.3" fill="#3b87c6" opacity="0.85"/>
<circle cx="430.9" cy="465.9" r="1.3" fill="#2f78b8" opacity="0.85"/>
<circle cx="444.8" cy="452.5" r="1.3" fill="#3b87c6" opacity="0.85"/>
<circle cx="428.9" cy="481.5" r="1.3" fill="#2f78b8" opacity="0.85"/>
<circle cx="437.3" cy="485.4" r="1.3" fill="#2a6aa6" opacity="0.85"/>
<circle cx="440.0" cy="455.7" r="1.3" fill="#3b87c6" opacity="0.85"/>
<circle cx="427.9" cy="439.3" r="1.3" fill="#5aa0d8" opacity="0.85"/>
<circle cx="437.4" cy="461.4" r="1.3" fill="#2f78b8" opacity="0.85"/>
<circle cx="433.5" cy="453.0" r="1.3" fill="#4b97d4" opacity="0.85"/>
<circle cx="433.9" cy="443.1" r="1.3" fill="#4b97d4" opacity="0.85"/>
<circle cx="442.8" cy="460.1" r="1.3" fill="#4b97d4" opacity="0.85"/>
<circle cx="428.6" cy="471.0" r="1.3" fill="#5aa0d8" opacity="0.85"/>
<circle cx="433.2" cy="444.8" r="1.3" fill="#2f78b8" opacity="0.85"/>
<circle cx="430.0" cy="448.7" r="1.3" fill="#5aa0d8" opacity="0.85"/>
<circle cx="439.4" cy="461.0" r="1.3" fill="#3b87c6" opacity="0.85"/>
<circle cx="437.9" cy="475.5" r="1.3" fill="#4b97d4" opacity="0.85"/>
<circle cx="430.6" cy="458.2" r="1.3" fill="#2a6aa6" opacity="0.85"/>
<circle cx="437.3" cy="482.0" r="1.3" fill="#4b97d4" opacity="0.85"/>
<circle cx="430.6" cy="439.8" r="1.3" fill="#2f78b8" opacity="0.85"/>
<circle cx="436.0" cy="446.9" r="1.3" fill="#4b97d4" opacity="0.85"/>
<circle cx="428.4" cy="488.8" r="1.3" fill="#3b87c6" opacity="0.85"/>
<circle cx="430.8" cy="447.9" r="1.3" fill="#3b87c6" opacity="0.85"/>
<circle cx="437.6" cy="477.0" r="1.3" fill="#2f78b8" opacity="0.85"/>
<circle cx="429.3" cy="440.4" r="1.3" fill="#4b97d4" opacity="0.85"/>
<circle cx="434.9" cy="450.4" r="1.3" fill="#3b87c6" opacity="0.85"/>
<circle cx="436.9" cy="489.2" r="1.3" fill="#5aa0d8" opacity="0.85"/>
<circle cx="435.6" cy="464.1" r="1.3" fill="#2a6aa6" opacity="0.85"/>
<circle cx="432.8" cy="481.1" r="1.3" fill="#4b97d4" opacity="0.85"/>
<circle cx="432.6" cy="456.9" r="1.3" fill="#2a6aa6" opacity="0.85"/>
<circle cx="434.5" cy="466.5" r="1.3" fill="#2a6aa6" opacity="0.85"/>
<circle cx="428.7" cy="455.4" r="1.3" fill="#3b87c6" opacity="0.85"/>
<circle cx="440.0" cy="441.2" r="1.3" fill="#3b87c6" opacity="0.85"/>
<circle cx="448.0" cy="450.4" r="1.3" fill="#4f7ca8" opacity="0.85"/>
<circle cx="432.7" cy="480.0" r="1.3" fill="#3b87c6" opacity="0.85"/>
<circle cx="431.4" cy="446.5" r="1.3" fill="#3b87c6" opacity="0.85"/>
<circle cx="434.9" cy="478.2" r="1.3" fill="#4b97d4" opacity="0.85"/>
<circle cx="431.3" cy="476.4" r="1.3" fill="#3b87c6" opacity="0.85"/>
<circle cx="438.4" cy="441.0" r="1.3" fill="#3b87c6" opacity="0.85"/>
<circle cx="430.8" cy="452.1" r="1.3" fill="#2a6aa6" opacity="0.85"/>
<circle cx="430.8" cy="479.6" r="1.3" fill="#2a6aa6" opacity="0.85"/>
<circle cx="429.8" cy="452.2" r="1.3" fill="#5aa0d8" opacity="0.85"/>
<circle cx="436.4" cy="480.3" r="1.3" fill="#3b87c6" opacity="0.85"/>
<circle cx="433.0" cy="482.0" r="1.3" fill="#5aa0d8" opacity="0.85"/>
<circle cx="430.6" cy="480.2" r="1.3" fill="#2f78b8" opacity="0.85"/>
<circle cx="454.6" cy="464.0" r="1.3" fill="#4f7ca8" opacity="0.85"/>
<circle cx="432.6" cy="441.6" r="1.3" fill="#5aa0d8" opacity="0.85"/>
<circle cx="429.6" cy="442.8" r="1.3" fill="#3b87c6" opacity="0.85"/>
<circle cx="430.9" cy="474.9" r="1.3" fill="#4b97d4" opacity="0.85"/>
<circle cx="439.1" cy="447.1" r="1.3" fill="#4b97d4" opacity="0.85"/>
<circle cx="428.6" cy="444.8" r="1.3" fill="#3b87c6" opacity="0.85"/>
<circle cx="436.6" cy="449.6" r="1.3" fill="#2a6aa6" opacity="0.85"/>
<circle cx="436.7" cy="440.4" r="1.3" fill="#3b87c6" opacity="0.85"/>
<circle cx="428.1" cy="485.1" r="1.3" fill="#5aa0d8" opacity="0.85"/>
<circle cx="442.0" cy="456.7" r="1.3" fill="#3b87c6" opacity="0.85"/>
<circle cx="428.9" cy="446.3" r="1.3" fill="#4b97d4" opacity="0.85"/>
<circle cx="431.3" cy="474.2" r="1.3" fill="#5aa0d8" opacity="0.85"/>
<circle cx="433.4" cy="475.0" r="1.3" fill="#3b87c6" opacity="0.85"/>
<circle cx="441.4" cy="471.1" r="1.3" fill="#3b87c6" opacity="0.85"/>
<circle cx="430.3" cy="439.3" r="1.3" fill="#5aa0d8" opacity="0.85"/>
<circle cx="431.1" cy="455.0" r="1.3" fill="#5aa0d8" opacity="0.85"/>
<circle cx="432.8" cy="465.2" r="1.3" fill="#2f78b8" opacity="0.85"/>
<circle cx="433.2" cy="473.2" r="1.3" fill="#2f78b8" opacity="0.85"/>
<circle cx="436.9" cy="466.9" r="1.3" fill="#4b97d4" opacity="0.85"/>
<circle cx="431.9" cy="448.9" r="1.3" fill="#5aa0d8" opacity="0.85"/>
<circle cx="429.7" cy="484.4" r="1.3" fill="#2a6aa6" opacity="0.85"/>
<circle cx="429.6" cy="442.9" r="1.3" fill="#2a6aa6" opacity="0.85"/>
<circle cx="432.1" cy="450.5" r="1.3" fill="#2a6aa6" opacity="0.85"/>
<circle cx="441.2" cy="485.4" r="1.3" fill="#3b87c6" opacity="0.85"/>
<circle cx="440.0" cy="461.6" r="1.3" fill="#2a6aa6" opacity="0.85"/>
<circle cx="434.6" cy="465.5" r="1.3" fill="#5aa0d8" opacity="0.85"/>
<circle cx="434.1" cy="468.8" r="1.3" fill="#2f78b8" opacity="0.85"/>
<circle cx="434.0" cy="452.2" r="1.3" fill="#3b87c6" opacity="0.85"/>
<circle cx="433.1" cy="484.1" r="1.3" fill="#5aa0d8" opacity="0.85"/>
<circle cx="434.7" cy="489.0" r="1.3" fill="#5aa0d8" opacity="0.85"/>
<circle cx="437.6" cy="442.0" r="1.3" fill="#3b87c6" opacity="0.85"/>
<circle cx="432.2" cy="443.5" r="1.3" fill="#3b87c6" opacity="0.85"/>
<circle cx="438.9" cy="477.9" r="1.3" fill="#3b87c6" opacity="0.85"/>
<circle cx="438.3" cy="438.0" r="1.3" fill="#3b87c6" opacity="0.85"/>
<circle cx="430.9" cy="476.7" r="1.3" fill="#2f78b8" opacity="0.85"/>
<circle cx="442.2" cy="445.6" r="1.3" fill="#5aa0d8" opacity="0.85"/>
<circle cx="433.5" cy="476.7" r="1.3" fill="#2f78b8" opacity="0.85"/>
<circle cx="430.6" cy="458.4" r="1.3" fill="#2a6aa6" opacity="0.85"/>
<circle cx="431.2" cy="479.6" r="1.3" fill="#3b87c6" opacity="0.85"/>
<circle cx="432.4" cy="475.7" r="1.3" fill="#3b87c6" opacity="0.85"/>
<circle cx="437.1" cy="484.0" r="1.3" fill="#4b97d4" opacity="0.85"/>
<circle cx="430.0" cy="442.0" r="1.3" fill="#3b87c6" opacity="0.85"/>
<circle cx="435.1" cy="443.1" r="1.3" fill="#2f78b8" opacity="0.85"/>
<circle cx="437.3" cy="471.3" r="1.3" fill="#5aa0d8" opacity="0.85"/>
<circle cx="446.8" cy="478.1" r="1.3" fill="#6a90b5" opacity="0.85"/>
<circle cx="431.8" cy="464.2" r="1.3" fill="#5aa0d8" opacity="0.85"/>
<circle cx="432.1" cy="439.7" r="1.3" fill="#2f78b8" opacity="0.85"/>
<circle cx="435.4" cy="471.6" r="1.3" fill="#4b97d4" opacity="0.85"/>
<circle cx="435.3" cy="447.8" r="1.3" fill="#2f78b8" opacity="0.85"/>
<circle cx="433.0" cy="447.0" r="1.3" fill="#2a6aa6" opacity="0.85"/>
<circle cx="433.4" cy="475.8" r="1.3" fill="#5aa0d8" opacity="0.85"/>
<circle cx="429.4" cy="452.7" r="1.3" fill="#3b87c6" opacity="0.85"/>
<circle cx="436.4" cy="481.3" r="1.3" fill="#2a6aa6" opacity="0.85"/>
<circle cx="443.3" cy="440.9" r="1.3" fill="#3b87c6" opacity="0.85"/>
<circle cx="428.5" cy="451.5" r="1.3" fill="#3b87c6" opacity="0.85"/>
<circle cx="436.1" cy="476.8" r="1.3" fill="#5aa0d8" opacity="0.85"/>
<circle cx="435.1" cy="478.1" r="1.3" fill="#2f78b8" opacity="0.85"/>
<circle cx="434.5" cy="456.6" r="1.3" fill="#5aa0d8" opacity="0.85"/>
<circle cx="429.3" cy="476.6" r="1.3" fill="#4b97d4" opacity="0.85"/>
<circle cx="433.4" cy="482.8" r="1.3" fill="#4b97d4" opacity="0.85"/>
<circle cx="430.5" cy="458.0" r="1.3" fill="#3b87c6" opacity="0.85"/>
<circle cx="448.6" cy="452.4" r="1.3" fill="#5a84ad" opacity="0.85"/>
<circle cx="433.8" cy="463.2" r="1.3" fill="#3b87c6" opacity="0.85"/>
<circle cx="433.6" cy="454.1" r="1.3" fill="#5aa0d8" opacity="0.85"/>
<circle cx="428.8" cy="486.7" r="1.3" fill="#3b87c6" opacity="0.85"/>
<circle cx="429.4" cy="452.7" r="1.3" fill="#5aa0d8" opacity="0.85"/>
<circle cx="436.0" cy="472.3" r="1.3" fill="#2a6aa6" opacity="0.85"/>
<circle cx="434.3" cy="442.9" r="1.3" fill="#3b87c6" opacity="0.85"/>
<circle cx="428.2" cy="485.2" r="1.3" fill="#3b87c6" opacity="0.85"/>
<circle cx="431.3" cy="464.6" r="1.3" fill="#2f78b8" opacity="0.85"/>
<circle cx="431.1" cy="467.2" r="1.3" fill="#3b87c6" opacity="0.85"/>
<circle cx="430.4" cy="455.7" r="1.3" fill="#2f78b8" opacity="0.85"/>
<circle cx="435.9" cy="460.6" r="1.3" fill="#2a6aa6" opacity="0.85"/>
<circle cx="428.8" cy="440.1" r="1.3" fill="#2a6aa6" opacity="0.85"/>
<circle cx="435.8" cy="477.4" r="1.3" fill="#3b87c6" opacity="0.85"/>
<circle cx="430.1" cy="447.6" r="1.3" fill="#2f78b8" opacity="0.85"/>
<circle cx="434.5" cy="443.0" r="1.3" fill="#2a6aa6" opacity="0.85"/>
<circle cx="437.4" cy="455.6" r="1.3" fill="#2f78b8" opacity="0.85"/>
<circle cx="441.1" cy="455.0" r="1.3" fill="#4b97d4" opacity="0.85"/>
<circle cx="433.4" cy="468.3" r="1.3" fill="#3b87c6" opacity="0.85"/>
<circle cx="444.3" cy="473.0" r="1.3" fill="#2f78b8" opacity="0.85"/>
<circle cx="437.1" cy="463.1" r="1.3" fill="#2a6aa6" opacity="0.85"/>
<circle cx="429.0" cy="460.1" r="1.3" fill="#2a6aa6" opacity="0.85"/>
<circle cx="431.1" cy="484.7" r="1.3" fill="#3b87c6" opacity="0.85"/>
<circle cx="432.9" cy="471.9" r="1.3" fill="#3b87c6" opacity="0.85"/>
<circle cx="433.3" cy="463.9" r="1.3" fill="#3b87c6" opacity="0.85"/>
<circle cx="366.3" cy="444.6" r="1.3" fill="#5a84ad" opacity="0.85"/>
<circle cx="380.2" cy="451.0" r="1.3" fill="#5a84ad" opacity="0.85"/>
<circle cx="384.2" cy="466.0" r="1.3" fill="#4b97d4" opacity="0.85"/>
<circle cx="383.6" cy="482.1" r="1.3" fill="#6a90b5" opacity="0.85"/>
<circle cx="373.0" cy="498.5" r="1.3" fill="#4f7ca8" opacity="0.85"/>
<circle cx="376.2" cy="498.5" r="1.3" fill="#4f7ca8" opacity="0.85"/>
<circle cx="468.5" cy="445.4" r="1.3" fill="#4f7ca8" opacity="0.85"/>
<circle cx="483.5" cy="452.6" r="1.3" fill="#5a84ad" opacity="0.85"/>
<circle cx="483.5" cy="457.2" r="1.3" fill="#6a90b5" opacity="0.85"/>
<circle cx="484.2" cy="465.4" r="1.3" fill="#6a90b5" opacity="0.85"/>
<circle cx="470.0" cy="476.5" r="1.3" fill="#4f7ca8" opacity="0.85"/>
<circle cx="466.2" cy="484.6" r="1.3" fill="#5a84ad" opacity="0.85"/>
<circle cx="494.0" cy="437.0" r="1.3" fill="#4f7ca8" opacity="0.85"/>
<circle cx="448.5" cy="493.8" r="1.3" fill="#4f7ca8" opacity="0.85"/>
<circle cx="394.6" cy="419.7" r="1.3" fill="#2f78b8" opacity="0.85"/>
<circle cx="393.8" cy="430.6" r="1.3" fill="#2f78b8" opacity="0.85"/>
<circle cx="397.2" cy="432.7" r="1.3" fill="#2a6aa6" opacity="0.85"/>
<circle cx="392.9" cy="433.2" r="1.3" fill="#2f78b8" opacity="0.85"/>
<circle cx="450.8" cy="453.5" r="1.3" fill="#5a84ad" opacity="0.85"/>
<circle cx="458.2" cy="453.5" r="1.3" fill="#5a84ad" opacity="0.85"/>
<circle cx="453.5" cy="457.7" r="1.3" fill="#4f7ca8" opacity="0.85"/>
<circle cx="443.4" cy="464.6" r="1.3" fill="#3b87c6" opacity="0.85"/>
<circle cx="454.3" cy="466.9" r="1.3" fill="#6a90b5" opacity="0.85"/>
<circle cx="443.1" cy="469.7" r="1.3" fill="#3b87c6" opacity="0.85"/>
<circle cx="451.5" cy="477.4" r="1.3" fill="#6a90b5" opacity="0.85"/>
<circle cx="456.2" cy="480.5" r="1.3" fill="#5a84ad" opacity="0.85"/>
<circle cx="441.8" cy="446.6" r="1.3" fill="#3b87c6" opacity="0.85"/>
<circle cx="442.3" cy="476.9" r="1.3" fill="#2f78b8" opacity="0.85"/>
<circle cx="444.6" cy="440.0" r="1.3" fill="#2f78b8" opacity="0.85"/>
<circle cx="441.0" cy="446.3" r="1.3" fill="#4b97d4" opacity="0.85"/>
<circle cx="443.3" cy="464.8" r="1.3" fill="#3b87c6" opacity="0.85"/>
<circle cx="442.7" cy="469.4" r="1.3" fill="#4b97d4" opacity="0.85"/>
<circle cx="434.6" cy="494.6" r="1.3" fill="#3b87c6" opacity="0.85"/>
<circle cx="437.7" cy="494.0" r="1.3" fill="#2f78b8" opacity="0.85"/>
<circle cx="429.0" cy="420.0" r="1.3" fill="#2a6aa6" opacity="0.85"/>
<circle cx="428.5" cy="425.5" r="1.3" fill="#2f78b8" opacity="0.85"/>
</g>
<circle cx="387.10" cy="356.80" r="1.40" fill="#d8213a" opacity="0.9"/>
<circle cx="468.80" cy="346.80" r="1.40" fill="#d8213a" opacity="0.9"/>
<circle cx="470.50" cy="346.80" r="1.40" fill="#d8213a" opacity="0.9"/>
<circle cx="483.30" cy="346.80" r="1.40" fill="#d8213a" opacity="0.9"/>
<circle cx="438.40" cy="371.30" r="1.40" fill="#d8213a" opacity="0.9"/>
<circle cx="447.90" cy="370.10" r="1.40" fill="#d8213a" opacity="0.9"/>
<circle cx="449.60" cy="370.50" r="1.40" fill="#d8213a" opacity="0.9"/>
<circle cx="451.30" cy="370.80" r="1.40" fill="#d8213a" opacity="0.9"/>
<circle cx="469.50" cy="371.30" r="1.40" fill="#d8213a" opacity="0.9"/>
<circle cx="433.20" cy="402.30" r="1.40" fill="#d8213a" opacity="0.9"/>
<circle cx="385.00" cy="410.10" r="1.40" fill="#d8213a" opacity="0.9"/>
<circle cx="390.50" cy="428.80" r="1.40" fill="#d8213a" opacity="0.9"/>
<circle cx="389.00" cy="432.70" r="1.40" fill="#d8213a" opacity="0.9"/>
<circle cx="430.60" cy="429.00" r="1.40" fill="#d8213a" opacity="0.9"/>
<circle cx="447.30" cy="428.50" r="1.40" fill="#d8213a" opacity="0.9"/>
<circle cx="452.50" cy="433.00" r="1.40" fill="#d8213a" opacity="0.9"/>
<circle cx="458.80" cy="430.20" r="1.40" fill="#d8213a" opacity="0.9"/>
<circle cx="446.90" cy="428.80" r="1.40" fill="#d8213a" opacity="0.9"/>
<circle cx="459.20" cy="429.20" r="1.40" fill="#d8213a" opacity="0.9"/>
<circle cx="453.10" cy="433.10" r="1.40" fill="#d8213a" opacity="0.9"/>
<g fill="#e8202a">
<circle cx="429.0" cy="432.9" r="1.3"/>
<circle cx="429.8" cy="433.3" r="1.3"/>
<circle cx="430.6" cy="432.8" r="1.3"/>
<circle cx="431.4" cy="432.4" r="1.3"/>
<circle cx="432.2" cy="432.3" r="1.3"/>
<circle cx="433.0" cy="432.8" r="1.3"/>
<circle cx="433.8" cy="432.2" r="1.3"/>
<circle cx="434.6" cy="432.4" r="1.3"/>
<circle cx="435.4" cy="432.5" r="1.3"/>
<circle cx="436.2" cy="432.8" r="1.3"/>
<circle cx="437.0" cy="433.4" r="1.3"/>
<circle cx="437.8" cy="433.3" r="1.3"/>
<circle cx="438.6" cy="432.4" r="1.3"/>
<circle cx="439.4" cy="432.4" r="1.3"/>
</g>
<line x1="391.51" y1="283.00" x2="391.51" y2="516.10" stroke="#5a5a5a" stroke-width="0.8" stroke-dasharray="2.4,1.9"/>
<line x1="427.79" y1="283.00" x2="427.79" y2="516.10" stroke="#5a5a5a" stroke-width="0.8" stroke-dasharray="2.4,1.9"/>
<line x1="310.50" y1="436.80" x2="507.70" y2="436.80" stroke="#5a5a5a" stroke-width="0.8" stroke-dasharray="2.4,1.9"/>
<line x1="310.50" y1="283.00" x2="310.50" y2="516.70" stroke="#111" stroke-width="1.25" />
<line x1="309.90" y1="516.10" x2="505.60" y2="516.10" stroke="#111" stroke-width="1.25" />
<line x1="307.30" y1="506.00" x2="310.50" y2="506.00" stroke="#111" stroke-width="1" />
<text x="303.40" y="508.27" font-size="6.6" fill="#333" text-anchor="end" >0</text>
<line x1="307.30" y1="452.81" x2="310.50" y2="452.81" stroke="#111" stroke-width="1" />
<text x="303.40" y="455.08" font-size="6.6" fill="#333" text-anchor="end" >1</text>
<line x1="307.30" y1="399.62" x2="310.50" y2="399.62" stroke="#111" stroke-width="1" />
<text x="303.40" y="401.89" font-size="6.6" fill="#333" text-anchor="end" >2</text>
<line x1="307.30" y1="346.43" x2="310.50" y2="346.43" stroke="#111" stroke-width="1" />
<text x="303.40" y="348.70" font-size="6.6" fill="#333" text-anchor="end" >3</text>
<line x1="307.30" y1="293.24" x2="310.50" y2="293.24" stroke="#111" stroke-width="1" />
<text x="303.40" y="295.51" font-size="6.6" fill="#333" text-anchor="end" >4</text>
<line x1="318.95" y1="516.10" x2="318.95" y2="518.70" stroke="#111" stroke-width="1" />
<text x="318.95" y="528.17" font-size="6.6" fill="#333" text-anchor="middle" >−5.0</text>
<line x1="364.30" y1="516.10" x2="364.30" y2="518.70" stroke="#111" stroke-width="1" />
<text x="364.30" y="528.17" font-size="6.6" fill="#333" text-anchor="middle" >−2.5</text>
<line x1="409.65" y1="516.10" x2="409.65" y2="518.70" stroke="#111" stroke-width="1" />
<text x="409.65" y="528.17" font-size="6.6" fill="#333" text-anchor="middle" >0.0</text>
<line x1="455.00" y1="516.10" x2="455.00" y2="518.70" stroke="#111" stroke-width="1" />
<text x="455.00" y="528.17" font-size="6.6" fill="#333" text-anchor="middle" >2.5</text>
<line x1="500.35" y1="516.10" x2="500.35" y2="518.70" stroke="#111" stroke-width="1" />
<text x="500.35" y="528.17" font-size="6.6" fill="#333" text-anchor="middle" >5.0</text>
<text x="407.9" y="541.1" font-size="8.9" fill="#1a1a1a" stroke="#1a1a1a" stroke-width="0.25" text-anchor="middle" textLength="48.7" lengthAdjust="spacingAndGlyphs">Log<tspan font-size="5.8" dy="2">2</tspan><tspan dy="-2"> fold change</tspan></text>
<g transform="translate(291.4,399.8) rotate(-90)"><text x="0" y="0" font-size="8.9" fill="#1a1a1a" stroke="#1a1a1a" stroke-width="0.25" text-anchor="middle" textLength="67.4" lengthAdjust="spacingAndGlyphs">−Log (FDR-adjusted <tspan font-style="italic">P</tspan>)</text></g>
<text x="372.30" y="355.02" font-size="6.45" fill="#1f1f1f" >NOTCH2NLC</text>
<text x="461.40" y="345.12" font-size="6.45" fill="#1f1f1f" >RN7SL2</text>
<text x="453.10" y="355.12" font-size="6.45" fill="#1f1f1f" >RN7SL1</text>
<text x="480.70" y="355.12" font-size="6.45" fill="#1f1f1f" >IGHG1</text>
<text x="421.90" y="369.82" font-size="6.45" fill="#1f1f1f" >TMSB10</text>
<text x="450.50" y="368.62" font-size="6.45" fill="#1f1f1f" >XBP1</text>
<text x="426.20" y="379.42" font-size="6.45" fill="#1f1f1f" >MYH9</text>
<text x="451.30" y="379.42" font-size="6.45" fill="#1f1f1f" >C3</text>
<text x="465.20" y="379.42" font-size="6.45" fill="#1f1f1f" >IGHM</text>
<text x="425.50" y="399.82" font-size="6.45" fill="#1f1f1f" >TRANK1</text>
<text x="371.30" y="417.82" font-size="6.45" fill="#1f1f1f" >PLBD2</text>
<text x="381.50" y="427.82" font-size="6.45" fill="#1f1f1f" >SRSF10</text>
<text x="435.40" y="426.82" font-size="6.45" fill="#1f1f1f" >PLEC</text>
<text x="453.00" y="427.72" font-size="6.45" fill="#1f1f1f" >COL6A2</text>
<text x="375.10" y="440.22" font-size="6.45" fill="#1f1f1f" >DGKH</text>
<text x="446.90" y="440.82" font-size="6.45" fill="#1f1f1f" >RPPH1</text>
<rect x="0.5" y="0.5" width="519" height="549" fill="none" stroke="#555" stroke-width="1"/>
</svg></body></html>
